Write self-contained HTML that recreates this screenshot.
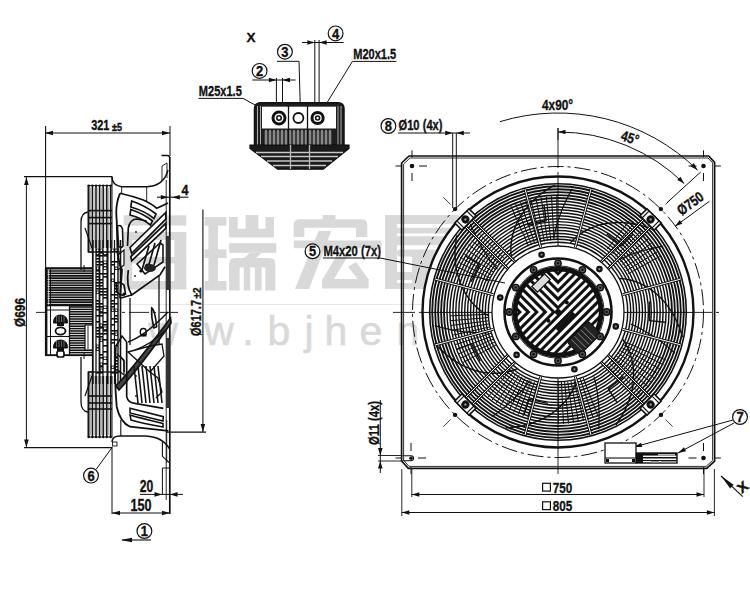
<!DOCTYPE html>
<html><head><meta charset="utf-8"><style>
html,body{margin:0;padding:0;background:#fff;}
svg{display:block;}
text{font-family:"Liberation Sans",sans-serif;}
</style></head><body>
<svg width="750" height="600" viewBox="0 0 750 600">
<rect width="750" height="600" fill="#fff"/>
<rect x="123.7" y="215.3" width="62.5" height="10.3" rx="0" fill="#d9d9d9"/>
<rect x="123.7" y="232" width="62.5" height="8" rx="2" fill="#d9d9d9"/>
<rect x="123.7" y="232" width="8.5" height="57" rx="0" fill="#d9d9d9"/>
<rect x="174.4" y="232" width="11.8" height="57" rx="0" fill="#d9d9d9"/>
<rect x="123.7" y="257" width="62.5" height="6.5" rx="0" fill="#d9d9d9"/>
<rect x="123.7" y="281" width="62.5" height="8.5" rx="0" fill="#d9d9d9"/>
<rect x="204.5" y="217" width="22" height="8.7" rx="0" fill="#d9d9d9"/>
<rect x="204.5" y="249.3" width="22" height="8.7" rx="0" fill="#d9d9d9"/>
<rect x="204.5" y="281" width="22" height="9.4" rx="0" fill="#d9d9d9"/>
<rect x="208.4" y="217" width="9.6" height="73" rx="0" fill="#d9d9d9"/>
<rect x="229" y="217" width="8.7" height="20" rx="0" fill="#d9d9d9"/>
<rect x="245.6" y="215" width="12.7" height="22" rx="0" fill="#d9d9d9"/>
<rect x="265.4" y="217" width="8.6" height="20" rx="0" fill="#d9d9d9"/>
<rect x="229" y="228.7" width="45" height="8.7" rx="2" fill="#d9d9d9"/>
<rect x="229.1" y="243.2" width="47.2" height="9.6" rx="0" fill="#d9d9d9"/>
<path d="M250,252.8 L262,252.8 L256,258 L244,258 Z" fill="#d9d9d9"/>
<path d="M229.1,290.4 L229.1,264 Q229.1,258 235,258 L269.5,258 Q275.4,258 275.4,264 L275.4,290.4 L265.3,290.4 L265.3,267.5 L261.6,267.5 L261.6,290.4 L254.8,290.4 L254.8,267.5 L250.2,267.5 L250.2,290.4 L243.8,290.4 L243.8,267.5 L239.6,267.5 L239.6,290.4 Z" fill="#d9d9d9"/>
<rect x="322.7" y="215" width="12.8" height="8" rx="0" fill="#d9d9d9"/>
<path d="M293.7,237 L293.7,225 Q293.7,219.2 300,219.2 L361,219.2 Q367.3,219.2 367.3,225 L367.3,237 L356,237 L356,227.7 L304.3,227.7 L304.3,237 Z" fill="#d9d9d9"/>
<rect x="293.7" y="240.5" width="87.8" height="7.7" rx="0" fill="#d9d9d9"/>
<path d="M318.5,231 L331.2,231 L309,289 L295,289 Z" fill="#d9d9d9"/>
<path d="M336,256.7 L347.5,256.7 L334,279 L368.7,279 L368.7,288.6 L322,288.6 L322,280 Z" fill="#d9d9d9"/>
<path d="M348,266.7 L356,262 L369,280 L360,282 Z" fill="#d9d9d9"/>
<rect x="385" y="215" width="75" height="9" rx="3" fill="#d9d9d9"/>
<rect x="397" y="227.7" width="60" height="5.7" rx="0" fill="#d9d9d9"/>
<rect x="397" y="236.2" width="60" height="9" rx="0" fill="#d9d9d9"/>
<rect x="385" y="215" width="12" height="74" rx="0" fill="#d9d9d9"/>
<rect x="397" y="249.6" width="50" height="7" rx="3" fill="#d9d9d9"/>
<rect x="412" y="256" width="35" height="33" rx="0" fill="#d9d9d9"/>
<rect x="397" y="272" width="15" height="8" rx="0" fill="#d9d9d9"/>
<rect x="397" y="283" width="15" height="6" rx="0" fill="#d9d9d9"/>
<line x1="120.0" y1="304.4" x2="440.0" y2="304.4" stroke="#e6e6e6" stroke-width="1.0" />
<text x="163.0" y="345.0" font-size="41" text-anchor="middle" font-weight="normal" fill="#d9d9d9" stroke="#d9d9d9" stroke-width="0.6">w</text>
<text x="219.0" y="345.0" font-size="41" text-anchor="middle" font-weight="normal" fill="#d9d9d9" stroke="#d9d9d9" stroke-width="0.6">w</text>
<text x="248.0" y="345.0" font-size="41" text-anchor="middle" font-weight="normal" fill="#d9d9d9" stroke="#d9d9d9" stroke-width="0.6">.</text>
<text x="279.0" y="345.0" font-size="41" text-anchor="middle" font-weight="normal" fill="#d9d9d9" stroke="#d9d9d9" stroke-width="0.6">b</text>
<text x="309.0" y="345.0" font-size="41" text-anchor="middle" font-weight="normal" fill="#d9d9d9" stroke="#d9d9d9" stroke-width="0.6">j</text>
<text x="336.0" y="345.0" font-size="41" text-anchor="middle" font-weight="normal" fill="#d9d9d9" stroke="#d9d9d9" stroke-width="0.6">h</text>
<text x="371.0" y="345.0" font-size="41" text-anchor="middle" font-weight="normal" fill="#d9d9d9" stroke="#d9d9d9" stroke-width="0.6">e</text>
<text x="408.0" y="345.0" font-size="41" text-anchor="middle" font-weight="normal" fill="#d9d9d9" stroke="#d9d9d9" stroke-width="0.6">n</text>
<line x1="393.0" y1="312.4" x2="722.0" y2="312.4" stroke="#111" stroke-width="0.9" stroke-dasharray="22,4,3,4"/>
<line x1="558.0" y1="128.0" x2="558.0" y2="478.0" stroke="#111" stroke-width="0.9" stroke-dasharray="40,4,3,4"/>
<path d="M409,156 L708.7,156 L714.6,162.3 L714.6,461.2 L706.7,468.4 L408.3,468.4 L401.6,461 L401.6,163 Z" stroke="#111" stroke-width="1.7" fill="none" />
<path d="M410,158 L708,158 L712.6,162.8 L712.6,460.5 L706,466.4 L409,466.4 L403.6,460.2 L403.6,164 Z" stroke="#333" stroke-width="1.0" fill="none" />
<circle cx="412.0" cy="166.0" r="2.3" stroke="#111" stroke-width="0.0" fill="#111" />
<circle cx="703.5" cy="166.0" r="2.3" stroke="#111" stroke-width="0.0" fill="#111" />
<circle cx="703.5" cy="458.0" r="2.3" stroke="#111" stroke-width="0.0" fill="#111" />
<path d="M402.5,455.8 L411,455.8 A2.5,2.5 0 0 1 411,460.8 L402.5,460.8" stroke="#111" stroke-width="1.1" fill="none" />
<circle cx="411.0" cy="458.3" r="1.8" stroke="#111" stroke-width="0.0" fill="#111" />
<line x1="419.0" y1="166.0" x2="427.0" y2="166.0" stroke="#111" stroke-width="1.0" />
<line x1="412.0" y1="173.0" x2="412.0" y2="181.0" stroke="#111" stroke-width="1.0" />
<line x1="398.0" y1="166.0" x2="402.0" y2="166.0" stroke="#111" stroke-width="0.0" />
<line x1="401.5" y1="166.0" x2="395.5" y2="166.0" stroke="#111" stroke-width="1.0" />
<line x1="412.0" y1="157.3" x2="412.0" y2="150.3" stroke="#111" stroke-width="1.0" />
<line x1="696.5" y1="166.0" x2="688.5" y2="166.0" stroke="#111" stroke-width="1.0" />
<line x1="703.5" y1="173.0" x2="703.5" y2="181.0" stroke="#111" stroke-width="1.0" />
<line x1="718.4" y1="166.0" x2="714.4" y2="166.0" stroke="#111" stroke-width="0.0" />
<line x1="714.9" y1="166.0" x2="720.9" y2="166.0" stroke="#111" stroke-width="1.0" />
<line x1="703.5" y1="157.3" x2="703.5" y2="150.3" stroke="#111" stroke-width="1.0" />
<line x1="696.5" y1="458.0" x2="688.5" y2="458.0" stroke="#111" stroke-width="1.0" />
<line x1="703.5" y1="451.0" x2="703.5" y2="443.0" stroke="#111" stroke-width="1.0" />
<line x1="718.4" y1="458.0" x2="714.4" y2="458.0" stroke="#111" stroke-width="0.0" />
<line x1="714.9" y1="458.0" x2="720.9" y2="458.0" stroke="#111" stroke-width="1.0" />
<line x1="703.5" y1="467.2" x2="703.5" y2="474.2" stroke="#111" stroke-width="1.0" />
<line x1="418.0" y1="458.0" x2="426.0" y2="458.0" stroke="#111" stroke-width="1.0" />
<line x1="411.0" y1="451.0" x2="411.0" y2="443.0" stroke="#111" stroke-width="1.0" />
<line x1="398.0" y1="458.0" x2="402.0" y2="458.0" stroke="#111" stroke-width="0.0" />
<line x1="401.5" y1="458.0" x2="395.5" y2="458.0" stroke="#111" stroke-width="1.0" />
<line x1="411.0" y1="467.2" x2="411.0" y2="474.2" stroke="#111" stroke-width="1.0" />
<circle cx="558.0" cy="312.0" r="145.5" stroke="#111" stroke-width="1.0" fill="none" stroke-dasharray="16,4,3,4"/>
<circle cx="455.1" cy="209.1" r="2.2" stroke="#111" stroke-width="0.0" fill="#111" />
<line x1="450.5" y1="204.5" x2="443.4" y2="197.4" stroke="#111" stroke-width="0.8" />
<circle cx="660.9" cy="209.1" r="2.2" stroke="#111" stroke-width="0.0" fill="#111" />
<line x1="665.5" y1="204.5" x2="672.6" y2="197.4" stroke="#111" stroke-width="0.8" />
<circle cx="660.9" cy="414.9" r="2.2" stroke="#111" stroke-width="0.0" fill="#111" />
<line x1="665.5" y1="419.5" x2="672.6" y2="426.6" stroke="#111" stroke-width="0.8" />
<circle cx="455.1" cy="414.9" r="2.2" stroke="#111" stroke-width="0.0" fill="#111" />
<line x1="450.5" y1="419.5" x2="443.4" y2="426.6" stroke="#111" stroke-width="0.8" />
<circle cx="558.0" cy="312.0" r="135.5" stroke="#111" stroke-width="2.4" fill="white" />
<circle cx="558.0" cy="312.0" r="128.3" stroke="#111" stroke-width="1.6" fill="none" />
<circle cx="558.0" cy="312.0" r="125.8" stroke="#111" stroke-width="1.85" fill="none" />
<circle cx="558.0" cy="312.0" r="122.8" stroke="#111" stroke-width="1.85" fill="none" />
<circle cx="558.0" cy="312.0" r="119.9" stroke="#111" stroke-width="1.85" fill="none" />
<circle cx="558.0" cy="312.0" r="116.9" stroke="#111" stroke-width="1.85" fill="none" />
<circle cx="558.0" cy="312.0" r="114.0" stroke="#111" stroke-width="1.85" fill="none" />
<circle cx="558.0" cy="312.0" r="111.0" stroke="#111" stroke-width="1.45" fill="none" />
<circle cx="558.0" cy="312.0" r="108.1" stroke="#111" stroke-width="1.45" fill="none" />
<circle cx="558.0" cy="312.0" r="105.1" stroke="#111" stroke-width="1.45" fill="none" />
<circle cx="558.0" cy="312.0" r="102.2" stroke="#111" stroke-width="1.45" fill="none" />
<circle cx="558.0" cy="312.0" r="99.2" stroke="#111" stroke-width="1.45" fill="none" />
<circle cx="558.0" cy="312.0" r="96.3" stroke="#111" stroke-width="1.45" fill="none" />
<circle cx="558.0" cy="312.0" r="93.3" stroke="#111" stroke-width="1.45" fill="none" />
<circle cx="558.0" cy="312.0" r="90.4" stroke="#111" stroke-width="1.45" fill="none" />
<circle cx="558.0" cy="312.0" r="87.4" stroke="#111" stroke-width="1.45" fill="none" />
<circle cx="558.0" cy="312.0" r="84.5" stroke="#111" stroke-width="1.45" fill="none" />
<circle cx="558.0" cy="312.0" r="81.5" stroke="#111" stroke-width="1.45" fill="none" />
<circle cx="558.0" cy="312.0" r="78.6" stroke="#111" stroke-width="1.45" fill="none" />
<circle cx="558.0" cy="312.0" r="75.6" stroke="#111" stroke-width="1.45" fill="none" />
<circle cx="558.0" cy="312.0" r="72.7" stroke="#111" stroke-width="1.45" fill="none" />
<circle cx="558.0" cy="312.0" r="69.7" stroke="#111" stroke-width="1.45" fill="none" />
<line x1="623.8" y1="341.3" x2="665.8" y2="360.0" stroke="#111" stroke-width="1.0" />
<line x1="622.4" y1="344.2" x2="663.5" y2="364.8" stroke="#111" stroke-width="1.0" />
<line x1="620.9" y1="347.1" x2="661.0" y2="369.6" stroke="#111" stroke-width="1.0" />
<line x1="619.2" y1="349.9" x2="658.3" y2="374.2" stroke="#111" stroke-width="1.0" />
<line x1="617.4" y1="352.7" x2="655.4" y2="378.7" stroke="#111" stroke-width="1.0" />
<line x1="615.5" y1="355.3" x2="652.2" y2="383.0" stroke="#111" stroke-width="1.0" />
<line x1="613.5" y1="357.9" x2="648.9" y2="387.2" stroke="#111" stroke-width="1.0" />
<line x1="611.3" y1="360.4" x2="645.4" y2="391.3" stroke="#111" stroke-width="1.0" />
<line x1="609.1" y1="362.7" x2="641.7" y2="395.1" stroke="#111" stroke-width="1.0" />
<line x1="606.7" y1="365.0" x2="637.9" y2="398.9" stroke="#111" stroke-width="1.0" />
<line x1="583.1" y1="377.4" x2="598.1" y2="416.6" stroke="#111" stroke-width="1.0" />
<line x1="580.1" y1="378.4" x2="593.4" y2="418.3" stroke="#111" stroke-width="1.0" />
<line x1="577.1" y1="379.4" x2="588.5" y2="419.8" stroke="#111" stroke-width="1.0" />
<line x1="574.0" y1="380.2" x2="583.6" y2="421.0" stroke="#111" stroke-width="1.0" />
<line x1="570.9" y1="380.8" x2="578.6" y2="422.1" stroke="#111" stroke-width="1.0" />
<line x1="567.7" y1="381.3" x2="573.6" y2="422.9" stroke="#111" stroke-width="1.0" />
<line x1="564.6" y1="381.7" x2="568.5" y2="423.5" stroke="#111" stroke-width="1.0" />
<line x1="561.4" y1="381.9" x2="563.5" y2="423.9" stroke="#111" stroke-width="1.0" />
<line x1="558.2" y1="382.0" x2="558.4" y2="424.0" stroke="#111" stroke-width="1.0" />
<line x1="537.6" y1="383.1" x2="527.7" y2="417.7" stroke="#111" stroke-width="1.0" />
<line x1="534.4" y1="382.1" x2="522.9" y2="416.3" stroke="#111" stroke-width="1.0" />
<line x1="531.2" y1="381.0" x2="518.2" y2="414.6" stroke="#111" stroke-width="1.0" />
<line x1="528.1" y1="379.7" x2="513.6" y2="412.6" stroke="#111" stroke-width="1.0" />
<line x1="525.1" y1="378.3" x2="509.1" y2="410.5" stroke="#111" stroke-width="1.0" />
<line x1="522.1" y1="376.7" x2="504.7" y2="408.2" stroke="#111" stroke-width="1.0" />
<line x1="519.2" y1="375.0" x2="500.4" y2="405.7" stroke="#111" stroke-width="1.0" />
<line x1="516.4" y1="373.2" x2="496.2" y2="403.0" stroke="#111" stroke-width="1.0" />
<line x1="513.7" y1="371.3" x2="492.1" y2="400.1" stroke="#111" stroke-width="1.0" />
<line x1="511.0" y1="369.2" x2="488.2" y2="397.0" stroke="#111" stroke-width="1.0" />
<line x1="496.2" y1="344.9" x2="462.6" y2="362.7" stroke="#111" stroke-width="1.0" />
<line x1="494.8" y1="342.0" x2="460.4" y2="358.3" stroke="#111" stroke-width="1.0" />
<line x1="493.5" y1="339.1" x2="458.4" y2="353.9" stroke="#111" stroke-width="1.0" />
<line x1="492.3" y1="336.2" x2="456.6" y2="349.3" stroke="#111" stroke-width="1.0" />
<line x1="491.3" y1="333.2" x2="455.1" y2="344.7" stroke="#111" stroke-width="1.0" />
<line x1="490.4" y1="330.1" x2="453.7" y2="340.0" stroke="#111" stroke-width="1.0" />
<line x1="489.6" y1="327.0" x2="452.5" y2="335.2" stroke="#111" stroke-width="1.0" />
<line x1="489.0" y1="323.9" x2="451.6" y2="330.4" stroke="#111" stroke-width="1.0" />
<line x1="488.6" y1="320.8" x2="450.9" y2="325.5" stroke="#111" stroke-width="1.0" />
<line x1="488.2" y1="317.6" x2="450.3" y2="320.7" stroke="#111" stroke-width="1.0" />
<line x1="488.0" y1="314.4" x2="450.1" y2="315.8" stroke="#111" stroke-width="1.0" />
<line x1="488.6" y1="281.1" x2="455.7" y2="266.4" stroke="#111" stroke-width="1.0" />
<line x1="490.0" y1="278.0" x2="457.9" y2="261.9" stroke="#111" stroke-width="1.0" />
<line x1="491.7" y1="274.9" x2="460.2" y2="257.4" stroke="#111" stroke-width="1.0" />
<line x1="493.4" y1="272.0" x2="462.8" y2="253.0" stroke="#111" stroke-width="1.0" />
<line x1="495.3" y1="269.1" x2="465.6" y2="248.7" stroke="#111" stroke-width="1.0" />
<line x1="497.3" y1="266.3" x2="468.6" y2="244.6" stroke="#111" stroke-width="1.0" />
<line x1="499.4" y1="263.6" x2="471.7" y2="240.6" stroke="#111" stroke-width="1.0" />
<line x1="501.7" y1="260.9" x2="475.0" y2="236.8" stroke="#111" stroke-width="1.0" />
<line x1="504.1" y1="258.4" x2="478.5" y2="233.1" stroke="#111" stroke-width="1.0" />
<line x1="528.7" y1="246.2" x2="510.8" y2="206.0" stroke="#111" stroke-width="1.0" />
<line x1="531.7" y1="245.0" x2="515.7" y2="204.0" stroke="#111" stroke-width="1.0" />
<line x1="534.8" y1="243.8" x2="520.6" y2="202.2" stroke="#111" stroke-width="1.0" />
<line x1="537.9" y1="242.9" x2="525.6" y2="200.6" stroke="#111" stroke-width="1.0" />
<line x1="541.1" y1="242.0" x2="530.7" y2="199.3" stroke="#111" stroke-width="1.0" />
<line x1="544.3" y1="241.3" x2="535.9" y2="198.1" stroke="#111" stroke-width="1.0" />
<line x1="547.5" y1="240.8" x2="541.1" y2="197.2" stroke="#111" stroke-width="1.0" />
<line x1="550.7" y1="240.4" x2="546.3" y2="196.6" stroke="#111" stroke-width="1.0" />
<line x1="554.0" y1="240.1" x2="551.5" y2="196.2" stroke="#111" stroke-width="1.0" />
<line x1="557.2" y1="240.0" x2="556.8" y2="196.0" stroke="#111" stroke-width="1.0" />
<line x1="607.3" y1="249.0" x2="629.4" y2="220.6" stroke="#111" stroke-width="1.0" />
<line x1="610.1" y1="251.3" x2="633.5" y2="223.9" stroke="#111" stroke-width="1.0" />
<line x1="612.8" y1="253.7" x2="637.4" y2="227.4" stroke="#111" stroke-width="1.0" />
<line x1="615.4" y1="256.2" x2="641.2" y2="231.1" stroke="#111" stroke-width="1.0" />
<line x1="617.8" y1="258.9" x2="644.7" y2="235.0" stroke="#111" stroke-width="1.0" />
<line x1="620.2" y1="261.7" x2="648.1" y2="239.0" stroke="#111" stroke-width="1.0" />
<line x1="622.4" y1="264.5" x2="651.4" y2="243.2" stroke="#111" stroke-width="1.0" />
<line x1="624.5" y1="267.5" x2="654.4" y2="247.5" stroke="#111" stroke-width="1.0" />
<line x1="626.4" y1="270.6" x2="657.2" y2="251.9" stroke="#111" stroke-width="1.0" />
<line x1="628.2" y1="273.7" x2="659.8" y2="256.5" stroke="#111" stroke-width="1.0" />
<path d="M570.2,243.1 L573.5,239.6 L577.2,236.3 L581.4,233.2 L586.1,230.4 L591.2,227.9 L596.7,225.9 L602.7,224.2 L609.2,223.1 L616.0,222.5 L623.3,222.6 L630.9,223.3 L638.8,224.8 L646.9,227.1 L655.3,230.4" stroke="#111" stroke-width="1.4" fill="none" />
<path d="M613.0,262.5 L617.6,260.2 L622.3,258.0 L627.2,256.0 L632.1,254.1 L637.1,252.4 L642.1,250.9 L647.3,249.5 L652.5,248.3 L657.8,247.2 L663.2,246.3" stroke="#111" stroke-width="1.2" fill="none" />
<path d="M606.8,234.0 L621.9,245.8 L633.0,234.3" stroke="#111" stroke-width="1.4" fill="none" />
<path d="M619.5,278.5 L624.3,278.9 L629.2,279.8 L634.2,281.2 L639.3,283.1 L644.4,285.5 L649.5,288.6 L654.5,292.2 L659.4,296.6 L664.1,301.6 L668.6,307.3 L672.8,313.7 L676.5,320.8 L679.8,328.6 L682.5,337.2" stroke="#111" stroke-width="1.4" fill="none" />
<path d="M631.0,324.1 L635.7,326.3 L640.3,328.6 L644.9,331.2 L649.4,333.8 L653.9,336.7 L658.3,339.7 L662.5,342.8 L666.8,346.1 L670.9,349.6 L674.9,353.2" stroke="#111" stroke-width="1.2" fill="none" />
<path d="M649.4,301.5 L649.6,320.7 L665.5,322.2" stroke="#111" stroke-width="1.4" fill="none" />
<path d="M622.5,339.2 L625.2,343.2 L627.6,347.6 L629.6,352.4 L631.3,357.5 L632.6,363.0 L633.4,368.9 L633.6,375.1 L633.3,381.7 L632.3,388.5 L630.7,395.5 L628.2,402.8 L625.0,410.2 L620.9,417.6 L615.9,425.0" stroke="#111" stroke-width="1.4" fill="none" />
<path d="M594.0,376.6 L595.3,381.7 L596.3,386.7 L597.2,391.9 L597.9,397.1 L598.5,402.3 L598.9,407.6 L599.1,413.0 L599.1,418.3 L599.0,423.7 L598.7,429.1" stroke="#111" stroke-width="1.2" fill="none" />
<path d="M623.2,376.9 L608.3,389.0 L617.0,402.4" stroke="#111" stroke-width="1.4" fill="none" />
<path d="M577.0,379.4 L575.5,384.0 L573.5,388.6 L571.1,393.2 L568.1,397.7 L564.6,402.1 L560.5,406.4 L555.8,410.5 L550.5,414.3 L544.6,417.8 L538.0,420.9 L530.8,423.5 L523.0,425.6 L514.7,427.0 L505.8,427.8" stroke="#111" stroke-width="1.4" fill="none" />
<path d="M529.9,380.5 L526.8,384.6 L523.5,388.6 L520.0,392.5 L516.4,396.3 L512.6,400.0 L508.7,403.6 L504.7,407.1 L500.5,410.4 L496.2,413.7 L491.8,416.8" stroke="#111" stroke-width="1.2" fill="none" />
<path d="M547.9,403.4 L529.1,399.4 L524.1,414.5" stroke="#111" stroke-width="1.4" fill="none" />
<path d="M517.1,368.8 L512.6,370.5 L507.8,371.9 L502.7,372.8 L497.3,373.3 L491.7,373.3 L485.8,372.8 L479.6,371.7 L473.3,369.9 L466.9,367.4 L460.4,364.3 L453.9,360.3 L447.4,355.5 L441.0,349.9 L434.9,343.3" stroke="#111" stroke-width="1.4" fill="none" />
<path d="M487.0,332.8 L481.8,332.8 L476.6,332.7 L471.4,332.5 L466.2,332.0 L460.9,331.4 L455.7,330.6 L450.4,329.6 L445.2,328.4 L440.0,327.1 L434.7,325.6" stroke="#111" stroke-width="1.2" fill="none" />
<path d="M480.2,361.1 L471.7,343.9 L456.7,349.4" stroke="#111" stroke-width="1.4" fill="none" />
<path d="M488.1,315.5 L483.9,313.0 L479.9,310.1 L476.0,306.7 L472.2,302.8 L468.7,298.4 L465.4,293.4 L462.5,287.9 L459.9,281.9 L457.9,275.3 L456.3,268.3 L455.3,260.7 L455.0,252.6 L455.5,244.2 L456.8,235.3" stroke="#111" stroke-width="1.4" fill="none" />
<path d="M497.5,269.4 L494.2,265.4 L491.0,261.3 L488.0,257.0 L485.1,252.7 L482.3,248.2 L479.7,243.6 L477.2,238.9 L474.8,234.0 L472.6,229.1 L470.5,224.1" stroke="#111" stroke-width="1.2" fill="none" />
<path d="M471.1,281.8 L479.3,264.4 L465.6,256.1" stroke="#111" stroke-width="1.4" fill="none" />
<path d="M511.7,259.5 L511.0,254.7 L510.8,249.7 L511.0,244.6 L511.7,239.2 L513.0,233.7 L514.8,228.0 L517.3,222.3 L520.4,216.6 L524.2,210.8 L528.8,205.2 L534.1,199.7 L540.2,194.5 L547.1,189.6 L554.8,185.0" stroke="#111" stroke-width="1.4" fill="none" />
<path d="M553.6,238.1 L554.7,233.1 L555.9,228.0 L557.3,223.0 L558.9,218.0 L560.7,213.0 L562.7,208.1 L564.8,203.2 L567.1,198.4 L569.6,193.6 L572.2,188.8" stroke="#111" stroke-width="1.2" fill="none" />
<path d="M527.4,225.2 L546.1,220.8 L544.0,204.9" stroke="#111" stroke-width="1.4" fill="none" />
<line x1="558.0" y1="176.0" x2="558.0" y2="258.0" stroke="#111" stroke-width="1.0" />
<line x1="558.0" y1="366.0" x2="558.0" y2="448.0" stroke="#111" stroke-width="1.0" />
<line x1="422.0" y1="312.4" x2="504.0" y2="312.4" stroke="#111" stroke-width="1.0" />
<line x1="612.0" y1="312.4" x2="694.0" y2="312.4" stroke="#111" stroke-width="1.0" />
<line x1="622.7" y1="329.3" x2="680.7" y2="344.9" stroke="#111" stroke-width="2.8" />
<line x1="622.7" y1="329.3" x2="680.7" y2="344.9" stroke="white" stroke-width="1.0" />
<line x1="575.3" y1="376.7" x2="590.9" y2="434.7" stroke="#111" stroke-width="2.8" />
<line x1="575.3" y1="376.7" x2="590.9" y2="434.7" stroke="white" stroke-width="1.0" />
<line x1="540.7" y1="376.7" x2="525.1" y2="434.7" stroke="#111" stroke-width="2.8" />
<line x1="540.7" y1="376.7" x2="525.1" y2="434.7" stroke="white" stroke-width="1.0" />
<line x1="493.3" y1="329.3" x2="435.3" y2="344.9" stroke="#111" stroke-width="2.8" />
<line x1="493.3" y1="329.3" x2="435.3" y2="344.9" stroke="white" stroke-width="1.0" />
<line x1="493.3" y1="294.7" x2="435.3" y2="279.1" stroke="#111" stroke-width="2.8" />
<line x1="493.3" y1="294.7" x2="435.3" y2="279.1" stroke="white" stroke-width="1.0" />
<line x1="540.7" y1="247.3" x2="525.1" y2="189.3" stroke="#111" stroke-width="2.8" />
<line x1="540.7" y1="247.3" x2="525.1" y2="189.3" stroke="white" stroke-width="1.0" />
<line x1="575.3" y1="247.3" x2="590.9" y2="189.3" stroke="#111" stroke-width="2.8" />
<line x1="575.3" y1="247.3" x2="590.9" y2="189.3" stroke="white" stroke-width="1.0" />
<line x1="622.7" y1="294.7" x2="680.7" y2="279.1" stroke="#111" stroke-width="2.8" />
<line x1="622.7" y1="294.7" x2="680.7" y2="279.1" stroke="white" stroke-width="1.0" />
<line x1="596.9" y1="358.0" x2="643.6" y2="404.6" stroke="#111" stroke-width="2.8" />
<line x1="596.9" y1="358.0" x2="643.6" y2="404.6" stroke="white" stroke-width="1.0" />
<line x1="604.0" y1="350.9" x2="650.6" y2="397.6" stroke="#111" stroke-width="2.8" />
<line x1="604.0" y1="350.9" x2="650.6" y2="397.6" stroke="white" stroke-width="1.0" />
<g transform="translate(650.6,404.6) rotate(45)"><rect x="-5" y="-10" width="10" height="20" fill="white" stroke="#111" stroke-width="1.6"/><line x1="-5" y1="-7" x2="5" y2="-7" stroke="#111" stroke-width="1.2"/><line x1="-5" y1="7" x2="5" y2="7" stroke="#111" stroke-width="1.2"/><circle cx="0" cy="0" r="4" fill="#111"/><circle cx="0" cy="0" r="1.2" fill="#999"/></g>
<line x1="512.0" y1="350.9" x2="465.4" y2="397.6" stroke="#111" stroke-width="2.8" />
<line x1="512.0" y1="350.9" x2="465.4" y2="397.6" stroke="white" stroke-width="1.0" />
<line x1="519.1" y1="358.0" x2="472.4" y2="404.6" stroke="#111" stroke-width="2.8" />
<line x1="519.1" y1="358.0" x2="472.4" y2="404.6" stroke="white" stroke-width="1.0" />
<g transform="translate(465.4,404.6) rotate(135)"><rect x="-5" y="-10" width="10" height="20" fill="white" stroke="#111" stroke-width="1.6"/><line x1="-5" y1="-7" x2="5" y2="-7" stroke="#111" stroke-width="1.2"/><line x1="-5" y1="7" x2="5" y2="7" stroke="#111" stroke-width="1.2"/><circle cx="0" cy="0" r="4" fill="#111"/><circle cx="0" cy="0" r="1.2" fill="#999"/></g>
<line x1="519.1" y1="266.0" x2="472.4" y2="219.4" stroke="#111" stroke-width="2.8" />
<line x1="519.1" y1="266.0" x2="472.4" y2="219.4" stroke="white" stroke-width="1.0" />
<line x1="512.0" y1="273.1" x2="465.4" y2="226.4" stroke="#111" stroke-width="2.8" />
<line x1="512.0" y1="273.1" x2="465.4" y2="226.4" stroke="white" stroke-width="1.0" />
<g transform="translate(465.4,219.4) rotate(225)"><rect x="-5" y="-10" width="10" height="20" fill="white" stroke="#111" stroke-width="1.6"/><line x1="-5" y1="-7" x2="5" y2="-7" stroke="#111" stroke-width="1.2"/><line x1="-5" y1="7" x2="5" y2="7" stroke="#111" stroke-width="1.2"/><circle cx="0" cy="0" r="4" fill="#111"/><circle cx="0" cy="0" r="1.2" fill="#999"/></g>
<line x1="604.0" y1="273.1" x2="650.6" y2="226.4" stroke="#111" stroke-width="2.8" />
<line x1="604.0" y1="273.1" x2="650.6" y2="226.4" stroke="white" stroke-width="1.0" />
<line x1="596.9" y1="266.0" x2="643.6" y2="219.4" stroke="#111" stroke-width="2.8" />
<line x1="596.9" y1="266.0" x2="643.6" y2="219.4" stroke="white" stroke-width="1.0" />
<g transform="translate(650.6,219.4) rotate(315)"><rect x="-5" y="-10" width="10" height="20" fill="white" stroke="#111" stroke-width="1.6"/><line x1="-5" y1="-7" x2="5" y2="-7" stroke="#111" stroke-width="1.2"/><line x1="-5" y1="7" x2="5" y2="7" stroke="#111" stroke-width="1.2"/><circle cx="0" cy="0" r="4" fill="#111"/><circle cx="0" cy="0" r="1.2" fill="#999"/></g>
<circle cx="558.0" cy="312.0" r="66.0" stroke="#111" stroke-width="1.3" fill="white" />
<circle cx="599.4" cy="269.1" r="3.3" stroke="#111" stroke-width="0.0" fill="#111" />
<circle cx="599.4" cy="269.1" r="1.1" stroke="#111" stroke-width="0.0" fill="#888" />
<circle cx="615.8" cy="326.4" r="3.3" stroke="#111" stroke-width="0.0" fill="#111" />
<circle cx="615.8" cy="326.4" r="1.1" stroke="#111" stroke-width="0.0" fill="#888" />
<circle cx="574.4" cy="369.3" r="3.3" stroke="#111" stroke-width="0.0" fill="#111" />
<circle cx="574.4" cy="369.3" r="1.1" stroke="#111" stroke-width="0.0" fill="#888" />
<circle cx="516.6" cy="354.9" r="3.3" stroke="#111" stroke-width="0.0" fill="#111" />
<circle cx="516.6" cy="354.9" r="1.1" stroke="#111" stroke-width="0.0" fill="#888" />
<circle cx="500.2" cy="297.6" r="3.3" stroke="#111" stroke-width="0.0" fill="#111" />
<circle cx="500.2" cy="297.6" r="1.1" stroke="#111" stroke-width="0.0" fill="#888" />
<circle cx="541.6" cy="254.7" r="3.3" stroke="#111" stroke-width="0.0" fill="#111" />
<circle cx="541.6" cy="254.7" r="1.1" stroke="#111" stroke-width="0.0" fill="#888" />
<circle cx="558.0" cy="312.0" r="53.5" stroke="#111" stroke-width="2.6" fill="white" />
<circle cx="558.0" cy="312.0" r="46.2" stroke="#111" stroke-width="0.9" fill="none" />
<circle cx="558.0" cy="312.0" r="43.2" stroke="#111" stroke-width="4.6" fill="#111" />
<clipPath id="hubA"><path d="M505,255 L558,255 L558,312 L505,312 Z"/></clipPath>
<clipPath id="hubB"><path d="M558,250 L620,250 L620,374 L496,374 L496,312 L558,312 Z"/></clipPath>
<clipPath id="hubclip"><circle cx="558" cy="312" r="40.8"/></clipPath>
<g clip-path="url(#hubclip)"><g clip-path="url(#hubB)"><line x1="403.2" y1="297.2" x2="543.2" y2="157.2" stroke="white" stroke-width="3.0"/><line x1="407.4" y1="301.4" x2="547.4" y2="161.4" stroke="white" stroke-width="3.0"/><line x1="411.7" y1="305.7" x2="551.7" y2="165.7" stroke="white" stroke-width="3.0"/><line x1="415.9" y1="309.9" x2="555.9" y2="169.9" stroke="white" stroke-width="3.0"/><line x1="420.2" y1="314.2" x2="560.2" y2="174.2" stroke="white" stroke-width="3.0"/><line x1="424.4" y1="318.4" x2="564.4" y2="178.4" stroke="white" stroke-width="3.0"/><line x1="428.6" y1="322.6" x2="568.6" y2="182.6" stroke="white" stroke-width="3.0"/><line x1="432.9" y1="326.9" x2="572.9" y2="186.9" stroke="white" stroke-width="3.0"/><line x1="437.1" y1="331.1" x2="577.1" y2="191.1" stroke="white" stroke-width="3.0"/><line x1="441.4" y1="335.4" x2="581.4" y2="195.4" stroke="white" stroke-width="3.0"/><line x1="445.6" y1="339.6" x2="585.6" y2="199.6" stroke="white" stroke-width="3.0"/><line x1="449.8" y1="343.8" x2="589.8" y2="203.8" stroke="white" stroke-width="3.0"/><line x1="454.1" y1="348.1" x2="594.1" y2="208.1" stroke="white" stroke-width="3.0"/><line x1="458.3" y1="352.3" x2="598.3" y2="212.3" stroke="white" stroke-width="3.0"/><line x1="462.6" y1="356.6" x2="602.6" y2="216.6" stroke="white" stroke-width="3.0"/><line x1="466.8" y1="360.8" x2="606.8" y2="220.8" stroke="white" stroke-width="3.0"/><line x1="471.0" y1="365.0" x2="611.0" y2="225.0" stroke="white" stroke-width="3.0"/><line x1="475.3" y1="369.3" x2="615.3" y2="229.3" stroke="white" stroke-width="3.0"/><line x1="479.5" y1="373.5" x2="619.5" y2="233.5" stroke="white" stroke-width="3.0"/><line x1="483.8" y1="377.8" x2="623.8" y2="237.8" stroke="white" stroke-width="3.0"/><line x1="488.0" y1="382.0" x2="628.0" y2="242.0" stroke="white" stroke-width="3.0"/><line x1="492.2" y1="386.2" x2="632.2" y2="246.2" stroke="white" stroke-width="3.0"/><line x1="496.5" y1="390.5" x2="636.5" y2="250.5" stroke="white" stroke-width="3.0"/><line x1="500.7" y1="394.7" x2="640.7" y2="254.7" stroke="white" stroke-width="3.0"/><line x1="505.0" y1="399.0" x2="645.0" y2="259.0" stroke="white" stroke-width="3.0"/><line x1="509.2" y1="403.2" x2="649.2" y2="263.2" stroke="white" stroke-width="3.0"/><line x1="513.4" y1="407.4" x2="653.4" y2="267.4" stroke="white" stroke-width="3.0"/><line x1="517.7" y1="411.7" x2="657.7" y2="271.7" stroke="white" stroke-width="3.0"/><line x1="521.9" y1="415.9" x2="661.9" y2="275.9" stroke="white" stroke-width="3.0"/><line x1="526.2" y1="420.2" x2="666.2" y2="280.2" stroke="white" stroke-width="3.0"/><line x1="530.4" y1="424.4" x2="670.4" y2="284.4" stroke="white" stroke-width="3.0"/><line x1="534.6" y1="428.6" x2="674.6" y2="288.6" stroke="white" stroke-width="3.0"/><line x1="538.9" y1="432.9" x2="678.9" y2="292.9" stroke="white" stroke-width="3.0"/><line x1="543.1" y1="437.1" x2="683.1" y2="297.1" stroke="white" stroke-width="3.0"/><line x1="547.4" y1="441.4" x2="687.4" y2="301.4" stroke="white" stroke-width="3.0"/><line x1="551.6" y1="445.6" x2="691.6" y2="305.6" stroke="white" stroke-width="3.0"/><line x1="555.8" y1="449.8" x2="695.8" y2="309.8" stroke="white" stroke-width="3.0"/><line x1="560.1" y1="454.1" x2="700.1" y2="314.1" stroke="white" stroke-width="3.0"/><line x1="564.3" y1="458.3" x2="704.3" y2="318.3" stroke="white" stroke-width="3.0"/><line x1="568.6" y1="462.6" x2="708.6" y2="322.6" stroke="white" stroke-width="3.0"/><line x1="572.8" y1="466.8" x2="712.8" y2="326.8" stroke="white" stroke-width="3.0"/></g><g clip-path="url(#hubA)"><line x1="572.8" y1="157.2" x2="712.8" y2="297.2" stroke="white" stroke-width="3.0"/><line x1="568.6" y1="161.4" x2="708.6" y2="301.4" stroke="white" stroke-width="3.0"/><line x1="564.3" y1="165.7" x2="704.3" y2="305.7" stroke="white" stroke-width="3.0"/><line x1="560.1" y1="169.9" x2="700.1" y2="309.9" stroke="white" stroke-width="3.0"/><line x1="555.8" y1="174.2" x2="695.8" y2="314.2" stroke="white" stroke-width="3.0"/><line x1="551.6" y1="178.4" x2="691.6" y2="318.4" stroke="white" stroke-width="3.0"/><line x1="547.4" y1="182.6" x2="687.4" y2="322.6" stroke="white" stroke-width="3.0"/><line x1="543.1" y1="186.9" x2="683.1" y2="326.9" stroke="white" stroke-width="3.0"/><line x1="538.9" y1="191.1" x2="678.9" y2="331.1" stroke="white" stroke-width="3.0"/><line x1="534.6" y1="195.4" x2="674.6" y2="335.4" stroke="white" stroke-width="3.0"/><line x1="530.4" y1="199.6" x2="670.4" y2="339.6" stroke="white" stroke-width="3.0"/><line x1="526.2" y1="203.8" x2="666.2" y2="343.8" stroke="white" stroke-width="3.0"/><line x1="521.9" y1="208.1" x2="661.9" y2="348.1" stroke="white" stroke-width="3.0"/><line x1="517.7" y1="212.3" x2="657.7" y2="352.3" stroke="white" stroke-width="3.0"/><line x1="513.4" y1="216.6" x2="653.4" y2="356.6" stroke="white" stroke-width="3.0"/><line x1="509.2" y1="220.8" x2="649.2" y2="360.8" stroke="white" stroke-width="3.0"/><line x1="505.0" y1="225.0" x2="645.0" y2="365.0" stroke="white" stroke-width="3.0"/><line x1="500.7" y1="229.3" x2="640.7" y2="369.3" stroke="white" stroke-width="3.0"/><line x1="496.5" y1="233.5" x2="636.5" y2="373.5" stroke="white" stroke-width="3.0"/><line x1="492.2" y1="237.8" x2="632.2" y2="377.8" stroke="white" stroke-width="3.0"/><line x1="488.0" y1="242.0" x2="628.0" y2="382.0" stroke="white" stroke-width="3.0"/><line x1="483.8" y1="246.2" x2="623.8" y2="386.2" stroke="white" stroke-width="3.0"/><line x1="479.5" y1="250.5" x2="619.5" y2="390.5" stroke="white" stroke-width="3.0"/><line x1="475.3" y1="254.7" x2="615.3" y2="394.7" stroke="white" stroke-width="3.0"/><line x1="471.0" y1="259.0" x2="611.0" y2="399.0" stroke="white" stroke-width="3.0"/><line x1="466.8" y1="263.2" x2="606.8" y2="403.2" stroke="white" stroke-width="3.0"/><line x1="462.6" y1="267.4" x2="602.6" y2="407.4" stroke="white" stroke-width="3.0"/><line x1="458.3" y1="271.7" x2="598.3" y2="411.7" stroke="white" stroke-width="3.0"/><line x1="454.1" y1="275.9" x2="594.1" y2="415.9" stroke="white" stroke-width="3.0"/><line x1="449.8" y1="280.2" x2="589.8" y2="420.2" stroke="white" stroke-width="3.0"/><line x1="445.6" y1="284.4" x2="585.6" y2="424.4" stroke="white" stroke-width="3.0"/><line x1="441.4" y1="288.6" x2="581.4" y2="428.6" stroke="white" stroke-width="3.0"/><line x1="437.1" y1="292.9" x2="577.1" y2="432.9" stroke="white" stroke-width="3.0"/><line x1="432.9" y1="297.1" x2="572.9" y2="437.1" stroke="white" stroke-width="3.0"/><line x1="428.6" y1="301.4" x2="568.6" y2="441.4" stroke="white" stroke-width="3.0"/><line x1="424.4" y1="305.6" x2="564.4" y2="445.6" stroke="white" stroke-width="3.0"/><line x1="420.2" y1="309.8" x2="560.2" y2="449.8" stroke="white" stroke-width="3.0"/><line x1="415.9" y1="314.1" x2="555.9" y2="454.1" stroke="white" stroke-width="3.0"/><line x1="411.7" y1="318.3" x2="551.7" y2="458.3" stroke="white" stroke-width="3.0"/><line x1="407.4" y1="322.6" x2="547.4" y2="462.6" stroke="white" stroke-width="3.0"/><line x1="403.2" y1="326.8" x2="543.2" y2="466.8" stroke="white" stroke-width="3.0"/></g></g>
<g transform="translate(584,338) rotate(-45)"><rect x="-15" y="-9" width="30" height="18" rx="3" fill="#222" stroke="#111"/><line x1="-10" y1="-8" x2="-10" y2="8" stroke="#888" stroke-width="0.9"/><line x1="-5.5" y1="-8" x2="-5.5" y2="8" stroke="#888" stroke-width="0.9"/><line x1="-1" y1="-8" x2="-1" y2="8" stroke="#888" stroke-width="0.9"/><line x1="3.5" y1="-8" x2="3.5" y2="8" stroke="#888" stroke-width="0.9"/><line x1="8" y1="-8" x2="8" y2="8" stroke="#888" stroke-width="0.9"/></g>
<g transform="translate(541,283) rotate(-45)"><rect x="-9" y="-4" width="18" height="8" fill="#ddd" stroke="#111" stroke-width="1.2"/></g>
<circle cx="558.0" cy="312.0" r="3.0" stroke="#111" stroke-width="0.0" fill="#111" />
<circle cx="566.8" cy="302.4" r="2.0" stroke="#111" stroke-width="0.0" fill="#111" />
<circle cx="548.4" cy="320.8" r="2.0" stroke="#111" stroke-width="0.0" fill="#111" />
<g transform="translate(566,322) rotate(-45)"><rect x="-12" y="-2.5" width="24" height="5" fill="#111"/></g>
<circle cx="606.7" cy="312.0" r="3.2" stroke="#111" stroke-width="1.4" fill="#555" />
<circle cx="606.7" cy="312.0" r="1.2" stroke="#111" stroke-width="0.0" fill="#111" />
<circle cx="600.2" cy="336.4" r="3.2" stroke="#111" stroke-width="1.4" fill="#555" />
<circle cx="600.2" cy="336.4" r="1.2" stroke="#111" stroke-width="0.0" fill="#111" />
<circle cx="582.4" cy="354.2" r="3.2" stroke="#111" stroke-width="1.4" fill="#555" />
<circle cx="582.4" cy="354.2" r="1.2" stroke="#111" stroke-width="0.0" fill="#111" />
<circle cx="558.0" cy="360.7" r="3.2" stroke="#111" stroke-width="1.4" fill="#555" />
<circle cx="558.0" cy="360.7" r="1.2" stroke="#111" stroke-width="0.0" fill="#111" />
<circle cx="533.6" cy="354.2" r="3.2" stroke="#111" stroke-width="1.4" fill="#555" />
<circle cx="533.6" cy="354.2" r="1.2" stroke="#111" stroke-width="0.0" fill="#111" />
<circle cx="515.8" cy="336.4" r="3.2" stroke="#111" stroke-width="1.4" fill="#555" />
<circle cx="515.8" cy="336.4" r="1.2" stroke="#111" stroke-width="0.0" fill="#111" />
<circle cx="509.3" cy="312.0" r="3.2" stroke="#111" stroke-width="1.4" fill="#555" />
<circle cx="509.3" cy="312.0" r="1.2" stroke="#111" stroke-width="0.0" fill="#111" />
<circle cx="515.8" cy="287.6" r="3.2" stroke="#111" stroke-width="1.4" fill="#555" />
<circle cx="515.8" cy="287.6" r="1.2" stroke="#111" stroke-width="0.0" fill="#111" />
<circle cx="533.6" cy="269.8" r="3.2" stroke="#111" stroke-width="1.4" fill="#555" />
<circle cx="533.6" cy="269.8" r="1.2" stroke="#111" stroke-width="0.0" fill="#111" />
<circle cx="558.0" cy="263.3" r="3.2" stroke="#111" stroke-width="1.4" fill="#555" />
<circle cx="558.0" cy="263.3" r="1.2" stroke="#111" stroke-width="0.0" fill="#111" />
<circle cx="582.4" cy="269.8" r="3.2" stroke="#111" stroke-width="1.4" fill="#555" />
<circle cx="582.4" cy="269.8" r="1.2" stroke="#111" stroke-width="0.0" fill="#111" />
<circle cx="600.2" cy="287.6" r="3.2" stroke="#111" stroke-width="1.4" fill="#555" />
<circle cx="600.2" cy="287.6" r="1.2" stroke="#111" stroke-width="0.0" fill="#111" />
<circle cx="388.4" cy="126.0" r="7.4" stroke="#111" stroke-width="1.2" fill="white" />
<text x="388.4" y="131.1" font-size="14" text-anchor="middle" font-weight="bold" fill="#111" textLength="7.2" lengthAdjust="spacingAndGlyphs" stroke="#111" stroke-width="0.35">8</text>
<text x="398.5" y="130.3" font-size="13.8" text-anchor="start" font-weight="bold" fill="#111" textLength="44" lengthAdjust="spacingAndGlyphs" stroke="#111" stroke-width="0.35">Ø10 (4x)</text>
<line x1="398.0" y1="133.0" x2="452.7" y2="133.0" stroke="#111" stroke-width="1.0" />
<line x1="452.7" y1="133.0" x2="470.0" y2="133.0" stroke="#111" stroke-width="1.0" />
<line x1="452.7" y1="133.0" x2="452.7" y2="208.0" stroke="#111" stroke-width="1.0" />
<line x1="456.3" y1="133.0" x2="456.3" y2="208.0" stroke="#111" stroke-width="1.0" />
<path d="M452.7,133.0 L445.2,135.3 L445.2,130.7 Z" fill="#111"/>
<path d="M456.3,133.0 L463.8,130.7 L463.8,135.3 Z" fill="#111"/>
<path d="M499.8,121.7 A199,199 0 0 1 697.5,170.1" stroke="#111" stroke-width="1.0" fill="none" />
<path d="M697.5,170.1 L690.6,166.4 L693.8,163.1 Z" fill="#111"/>
<text x="542.0" y="110.0" font-size="14.5" text-anchor="start" font-weight="bold" fill="#111" textLength="31" lengthAdjust="spacingAndGlyphs" stroke="#111" stroke-width="0.35">4x90°</text>
<path d="M558.0,132.0 A180,180 0 0 1 684.2,183.6" stroke="#111" stroke-width="1.0" fill="none" />
<path d="M558.0,132.0 L565.5,129.7 L565.5,134.3 Z" fill="#111"/>
<path d="M684.2,183.6 L677.2,179.9 L680.5,176.7 Z" fill="#111"/>
<text x="620.0" y="140.0" font-size="14.5" text-anchor="start" font-weight="bold" fill="#111" textLength="18" lengthAdjust="spacingAndGlyphs" transform="rotate(17 620.0 140.0)" stroke="#111" stroke-width="0.35">45°</text>
<line x1="558.0" y1="128.0" x2="558.0" y2="140.0" stroke="#111" stroke-width="1.0" />
<line x1="667.0" y1="202.7" x2="700.7" y2="172.0" stroke="#111" stroke-width="1.0" />
<line x1="675.0" y1="226.3" x2="709.4" y2="201.3" stroke="#111" stroke-width="1.0" />
<path d="M675.0,226.3 L679.7,220.0 L682.4,223.8 Z" fill="#111"/>
<text x="681.5" y="216.0" font-size="14.5" text-anchor="start" font-weight="bold" fill="#111" textLength="29" lengthAdjust="spacingAndGlyphs" transform="rotate(-36 681.5 216.0)" stroke="#111" stroke-width="0.35">Ø750</text>
<circle cx="312.5" cy="251.3" r="7.4" stroke="#111" stroke-width="1.2" fill="white" />
<text x="312.5" y="256.4" font-size="14" text-anchor="middle" font-weight="bold" fill="#111" textLength="7.2" lengthAdjust="spacingAndGlyphs" stroke="#111" stroke-width="0.35">5</text>
<text x="323.5" y="255.9" font-size="14.5" text-anchor="start" font-weight="bold" fill="#111" textLength="57.5" lengthAdjust="spacingAndGlyphs" stroke="#111" stroke-width="0.35">M4x20 (7x)</text>
<line x1="323.0" y1="258.0" x2="380.0" y2="258.0" stroke="#111" stroke-width="1.0" />
<line x1="380.0" y1="258.0" x2="505.0" y2="283.0" stroke="#111" stroke-width="1.0" />
<circle cx="740.0" cy="417.0" r="7.4" stroke="#111" stroke-width="1.2" fill="white" />
<text x="740.0" y="422.1" font-size="14" text-anchor="middle" font-weight="bold" fill="#111" textLength="7.2" lengthAdjust="spacingAndGlyphs" stroke="#111" stroke-width="0.35">7</text>
<line x1="733.0" y1="420.0" x2="634.0" y2="447.0" stroke="#111" stroke-width="1.0" />
<path d="M634.0,447.0 L641.1,442.7 L642.3,447.1 Z" fill="#111"/>
<line x1="734.0" y1="423.0" x2="678.0" y2="453.0" stroke="#111" stroke-width="1.0" />
<path d="M678.0,453.0 L684.0,447.2 L686.1,451.2 Z" fill="#111"/>
<rect x="605" y="443" width="31" height="20" fill="white" stroke="#111" stroke-width="1.3"/>
<line x1="605.0" y1="458.0" x2="636.0" y2="458.0" stroke="#111" stroke-width="1.1" />
<rect x="606" y="459" width="3" height="3" fill="#111"/><rect x="632" y="459" width="3" height="3" fill="#111"/>
<rect x="636.5" y="453" width="40.5" height="10" fill="white" stroke="#111" stroke-width="1.4"/>
<rect x="636.5" y="453" width="40.5" height="2.6" fill="#111"/>
<rect x="637" y="455" width="6" height="8" fill="#111"/>
<rect x="658" y="454" width="17" height="1.6" fill="#bbb"/>
<line x1="643.0" y1="457.8" x2="677.0" y2="457.8" stroke="#111" stroke-width="1.5" />
<line x1="643.0" y1="460.5" x2="677.0" y2="460.5" stroke="#111" stroke-width="1.0" />
<rect x="651" y="461" width="8" height="1.6" fill="#999"/><rect x="661" y="461" width="15" height="1.6" fill="#999"/>
<line x1="411.8" y1="469.0" x2="411.8" y2="497.0" stroke="#111" stroke-width="0.9" />
<line x1="704.0" y1="469.0" x2="704.0" y2="497.0" stroke="#111" stroke-width="0.9" />
<line x1="411.8" y1="494.5" x2="704.0" y2="494.5" stroke="#111" stroke-width="1.0" />
<path d="M411.8,494.5 L419.3,492.2 L419.3,496.8 Z" fill="#111"/>
<path d="M704.0,494.5 L696.5,496.8 L696.5,492.2 Z" fill="#111"/>
<line x1="401.8" y1="469.0" x2="401.8" y2="516.0" stroke="#111" stroke-width="0.9" />
<line x1="714.4" y1="469.0" x2="714.4" y2="516.0" stroke="#111" stroke-width="0.9" />
<line x1="401.8" y1="512.5" x2="714.4" y2="512.5" stroke="#111" stroke-width="1.0" />
<path d="M401.8,512.5 L409.3,510.2 L409.3,514.8 Z" fill="#111"/>
<path d="M714.4,512.5 L706.9,514.8 L706.9,510.2 Z" fill="#111"/>
<rect x="542.6" y="483.3" width="7.8" height="7.8" fill="none" stroke="#111" stroke-width="1.2"/>
<text x="552.8" y="492.8" font-size="15.5" text-anchor="start" font-weight="bold" fill="#111" textLength="19.5" lengthAdjust="spacingAndGlyphs" stroke="#111" stroke-width="0.35">750</text>
<rect x="542.6" y="501.8" width="7.8" height="7.8" fill="none" stroke="#111" stroke-width="1.2"/>
<text x="552.8" y="511.3" font-size="15.5" text-anchor="start" font-weight="bold" fill="#111" textLength="19.5" lengthAdjust="spacingAndGlyphs" stroke="#111" stroke-width="0.35">805</text>
<line x1="378.0" y1="455.5" x2="402.0" y2="455.5" stroke="#111" stroke-width="0.9" />
<line x1="378.0" y1="461.0" x2="402.0" y2="461.0" stroke="#111" stroke-width="0.9" />
<line x1="380.3" y1="400.0" x2="380.3" y2="473.0" stroke="#111" stroke-width="1.0" />
<path d="M380.3,455.5 L378.0,448.0 L382.6,448.0 Z" fill="#111"/>
<path d="M380.3,461.0 L382.6,468.5 L378.0,468.5 Z" fill="#111"/>
<text x="379.0" y="445.0" font-size="14.5" text-anchor="start" font-weight="bold" fill="#111" textLength="44" lengthAdjust="spacingAndGlyphs" transform="rotate(-90 379.0 445.0)" stroke="#111" stroke-width="0.35">Ø11 (4x)</text>
<line x1="721.0" y1="476.0" x2="742.7" y2="496.7" stroke="#111" stroke-width="1.1" />
<path d="M721,475.7 L733.6,484.8 L730.2,488.6 Z" fill="#111"/>
<text x="745.6" y="490.9" font-size="14" text-anchor="middle" font-weight="bold" fill="#111" textLength="10" lengthAdjust="spacingAndGlyphs" transform="rotate(-38 745.6 490.9)" stroke="#111" stroke-width="0.35">X</text>
<text x="246.5" y="42.4" font-size="13.5" text-anchor="start" font-weight="bold" fill="#111" stroke="#111" stroke-width="0.35">X</text>
<circle cx="259.6" cy="70.9" r="7.4" stroke="#111" stroke-width="1.2" fill="white" />
<text x="259.6" y="76.0" font-size="14" text-anchor="middle" font-weight="bold" fill="#111" textLength="7.2" lengthAdjust="spacingAndGlyphs" stroke="#111" stroke-width="0.35">2</text>
<circle cx="284.9" cy="51.7" r="7.4" stroke="#111" stroke-width="1.2" fill="white" />
<text x="284.9" y="56.8" font-size="14" text-anchor="middle" font-weight="bold" fill="#111" textLength="7.2" lengthAdjust="spacingAndGlyphs" stroke="#111" stroke-width="0.35">3</text>
<circle cx="335.6" cy="33.4" r="7.4" stroke="#111" stroke-width="1.2" fill="white" />
<text x="335.6" y="38.5" font-size="14" text-anchor="middle" font-weight="bold" fill="#111" textLength="7.2" lengthAdjust="spacingAndGlyphs" stroke="#111" stroke-width="0.35">4</text>
<text x="198.8" y="96.0" font-size="14.5" text-anchor="start" font-weight="bold" fill="#111" textLength="43" lengthAdjust="spacingAndGlyphs" stroke="#111" stroke-width="0.35">M25x1.5</text>
<line x1="198.5" y1="98.4" x2="243.0" y2="98.4" stroke="#111" stroke-width="1.0" />
<line x1="243.0" y1="98.4" x2="279.0" y2="118.0" stroke="#111" stroke-width="1.0" />
<text x="353.2" y="58.5" font-size="14.5" text-anchor="start" font-weight="bold" fill="#111" textLength="43" lengthAdjust="spacingAndGlyphs" stroke="#111" stroke-width="0.35">M20x1.5</text>
<line x1="352.4" y1="61.4" x2="396.4" y2="61.4" stroke="#111" stroke-width="1.0" />
<line x1="352.4" y1="61.4" x2="317.6" y2="118.0" stroke="#111" stroke-width="1.0" />
<line x1="252.4" y1="80.0" x2="295.6" y2="80.0" stroke="#111" stroke-width="1.0" />
<path d="M276.4,80.0 L268.9,82.3 L268.9,77.7 Z" fill="#111"/>
<path d="M282.5,80.0 L290.0,77.7 L290.0,82.3 Z" fill="#111"/>
<line x1="276.4" y1="78.0" x2="276.4" y2="110.0" stroke="#111" stroke-width="1.0" />
<line x1="282.5" y1="78.0" x2="282.5" y2="110.0" stroke="#111" stroke-width="1.0" />
<line x1="277.0" y1="61.3" x2="299.0" y2="61.3" stroke="#111" stroke-width="1.0" />
<line x1="299.0" y1="61.3" x2="300.4" y2="110.0" stroke="#111" stroke-width="1.0" />
<line x1="302.0" y1="42.5" x2="343.6" y2="42.5" stroke="#111" stroke-width="1.0" />
<path d="M314.8,42.5 L307.3,44.8 L307.3,40.2 Z" fill="#111"/>
<path d="M319.1,42.5 L326.6,40.2 L326.6,44.8 Z" fill="#111"/>
<line x1="314.8" y1="40.0" x2="314.8" y2="110.0" stroke="#111" stroke-width="1.0" />
<line x1="319.1" y1="40.0" x2="319.1" y2="110.0" stroke="#111" stroke-width="1.0" />
<path d="M254.5,145 L254.5,109 Q254.5,102.8 261,102.8 L338,102.8 Q344,102.8 344,109 L344,145 Z" stroke="#111" stroke-width="1.5" fill="#1e1e1e" />
<rect x="262" y="106.5" width="74" height="22" fill="white"/>
<line x1="262.0" y1="106.5" x2="336.0" y2="106.5" stroke="#666" stroke-width="1.0" />
<line x1="257.5" y1="106.0" x2="257.5" y2="145.0" stroke="#aaa" stroke-width="1.0" />
<line x1="260.5" y1="106.0" x2="260.5" y2="145.0" stroke="#aaa" stroke-width="1.0" />
<line x1="338.0" y1="106.0" x2="338.0" y2="145.0" stroke="#aaa" stroke-width="1.0" />
<line x1="341.0" y1="106.0" x2="341.0" y2="145.0" stroke="#aaa" stroke-width="1.0" />
<path d="M264.7,145 L264.7,131 Q266,128 267.3,131 L267.3,145 Z" fill="#888"/>
<path d="M268.7,145 L268.7,131 Q270,128 271.3,131 L271.3,145 Z" fill="#888"/>
<path d="M272.7,145 L272.7,131 Q274,128 275.3,131 L275.3,145 Z" fill="#888"/>
<path d="M276.7,145 L276.7,131 Q278,128 279.3,131 L279.3,145 Z" fill="#888"/>
<path d="M280.7,145 L280.7,131 Q282,128 283.3,131 L283.3,145 Z" fill="#888"/>
<path d="M284.7,145 L284.7,131 Q286,128 287.3,131 L287.3,145 Z" fill="#888"/>
<path d="M288.7,145 L288.7,131 Q290,128 291.3,131 L291.3,145 Z" fill="#888"/>
<path d="M292.7,145 L292.7,131 Q294,128 295.3,131 L295.3,145 Z" fill="#888"/>
<path d="M296.7,145 L296.7,131 Q298,128 299.3,131 L299.3,145 Z" fill="#888"/>
<path d="M300.7,145 L300.7,131 Q302,128 303.3,131 L303.3,145 Z" fill="#888"/>
<path d="M304.7,145 L304.7,131 Q306,128 307.3,131 L307.3,145 Z" fill="#888"/>
<path d="M308.7,145 L308.7,131 Q310,128 311.3,131 L311.3,145 Z" fill="#888"/>
<path d="M312.7,145 L312.7,131 Q314,128 315.3,131 L315.3,145 Z" fill="#888"/>
<path d="M316.7,145 L316.7,131 Q318,128 319.3,131 L319.3,145 Z" fill="#888"/>
<path d="M320.7,145 L320.7,131 Q322,128 323.3,131 L323.3,145 Z" fill="#888"/>
<path d="M324.7,145 L324.7,131 Q326,128 327.3,131 L327.3,145 Z" fill="#888"/>
<path d="M328.7,145 L328.7,131 Q330,128 331.3,131 L331.3,145 Z" fill="#888"/>
<circle cx="279.0" cy="118.0" r="6.0" stroke="#111" stroke-width="3.0" fill="white" />
<circle cx="279.0" cy="118.0" r="2.2" stroke="#111" stroke-width="1.6" fill="none" />
<circle cx="298.4" cy="118.0" r="5.0" stroke="#111" stroke-width="1.8" fill="white" />
<circle cx="317.6" cy="118.0" r="5.6" stroke="#111" stroke-width="3.0" fill="white" />
<circle cx="317.6" cy="118.0" r="2.0" stroke="#111" stroke-width="1.6" fill="none" />
<line x1="288.5" y1="106.0" x2="288.5" y2="145.0" stroke="#111" stroke-width="1.3" />
<line x1="307.5" y1="106.0" x2="307.5" y2="145.0" stroke="#111" stroke-width="1.3" />
<path d="M250,145 L349,145 L349,148.4 L323.2,169.2 L277.6,169.2 L250,148.4 Z" stroke="#111" stroke-width="1.2" fill="#1a1a1a" />
<line x1="256.0" y1="152.5" x2="343.0" y2="152.5" stroke="#c8c8c8" stroke-width="1.5" />
<line x1="261.0" y1="156.5" x2="338.0" y2="156.5" stroke="#c8c8c8" stroke-width="1.5" />
<line x1="267.0" y1="161.0" x2="332.0" y2="161.0" stroke="#c8c8c8" stroke-width="1.5" />
<line x1="273.0" y1="165.5" x2="326.0" y2="165.5" stroke="#c8c8c8" stroke-width="1.5" />
<line x1="290.5" y1="145.0" x2="290.5" y2="169.0" stroke="#bbb" stroke-width="1.3" />
<line x1="309.5" y1="145.0" x2="309.5" y2="169.0" stroke="#bbb" stroke-width="1.3" />
<line x1="45.0" y1="133.0" x2="170.0" y2="133.0" stroke="#111" stroke-width="1.0" />
<path d="M45.0,133.0 L53.0,130.7 L53.0,135.3 Z" fill="#111"/>
<path d="M170.0,133.0 L162.0,135.3 L162.0,130.7 Z" fill="#111"/>
<text x="91.2" y="130.4" font-size="14.6" text-anchor="start" font-weight="bold" fill="#111" textLength="18.2" lengthAdjust="spacingAndGlyphs" stroke="#111" stroke-width="0.35">321</text>
<text x="112.0" y="130.5" font-size="10.5" text-anchor="start" font-weight="bold" fill="#111" textLength="10" lengthAdjust="spacingAndGlyphs" stroke="#111" stroke-width="0.35">±5</text>
<line x1="45.6" y1="126.0" x2="45.6" y2="269.0" stroke="#111" stroke-width="1.1" />
<line x1="170.0" y1="126.0" x2="170.0" y2="156.0" stroke="#111" stroke-width="1.0" />
<line x1="24.0" y1="176.6" x2="112.0" y2="176.6" stroke="#111" stroke-width="1.2" />
<line x1="112.0" y1="176.6" x2="112.0" y2="185.0" stroke="#111" stroke-width="1.2" />
<line x1="26.4" y1="177.0" x2="26.4" y2="447.6" stroke="#111" stroke-width="1.0" />
<path d="M26.4,177.0 L28.7,185.0 L24.1,185.0 Z" fill="#111"/>
<path d="M26.4,447.6 L24.1,439.6 L28.7,439.6 Z" fill="#111"/>
<line x1="24.0" y1="447.6" x2="112.0" y2="447.6" stroke="#111" stroke-width="1.2" />
<text x="24.6" y="327.0" font-size="15" text-anchor="start" font-weight="bold" fill="#111" textLength="29" lengthAdjust="spacingAndGlyphs" transform="rotate(-90 24.6 327.0)" stroke="#111" stroke-width="0.35">Ø696</text>
<line x1="202.9" y1="209.4" x2="202.9" y2="432.0" stroke="#111" stroke-width="1.1" />
<path d="M202.9,432.0 L200.6,424.0 L205.2,424.0 Z" fill="#111"/>
<line x1="166.0" y1="432.1" x2="206.0" y2="432.1" stroke="#111" stroke-width="1.1" />
<text x="201.3" y="336.0" font-size="15" text-anchor="start" font-weight="bold" fill="#111" textLength="36" lengthAdjust="spacingAndGlyphs" transform="rotate(-90 201.3 336.0)" stroke="#111" stroke-width="0.35">Ø617.7</text>
<text x="201.3" y="298.5" font-size="10.5" text-anchor="start" font-weight="bold" fill="#111" textLength="11" lengthAdjust="spacingAndGlyphs" transform="rotate(-90 201.3 298.5)" stroke="#111" stroke-width="0.35">±2</text>
<line x1="157.0" y1="197.2" x2="188.4" y2="197.2" stroke="#111" stroke-width="1.1" />
<path d="M168.3,197.2 L160.8,199.5 L160.8,194.9 Z" fill="#111"/>
<path d="M172.3,197.2 L179.8,194.9 L179.8,199.5 Z" fill="#111"/>
<text x="181.5" y="194.5" font-size="14" text-anchor="start" font-weight="bold" fill="#111" textLength="7" lengthAdjust="spacingAndGlyphs" stroke="#111" stroke-width="0.35">4</text>
<line x1="36.0" y1="312.4" x2="178.0" y2="312.4" stroke="#111" stroke-width="0.9" stroke-dasharray="20,4,3,4"/>
<line x1="169.8" y1="157.0" x2="169.8" y2="514.0" stroke="#111" stroke-width="1.7" />
<path d="M161.5,155.5 L168,155.5 Q169.8,156 169.8,158" stroke="#111" stroke-width="1.3" fill="none" />
<path d="M162,181 L162,166 L167,163 L167,178" stroke="#111" stroke-width="0.9" fill="none" />
<line x1="166.2" y1="180.0" x2="166.2" y2="500.0" stroke="#111" stroke-width="0.9" />
<path d="M168,170 Q164,186 146.7,186.7 L121.7,186.7 Q112,186 112,176.6" stroke="#111" stroke-width="1.4" fill="none" />
<line x1="146.7" y1="187.0" x2="146.7" y2="202.0" stroke="#111" stroke-width="0.9" />
<line x1="121.7" y1="187.0" x2="121.7" y2="194.0" stroke="#111" stroke-width="0.9" />
<path d="M112,442 Q112,436 120,436 L146,436 Q163,437 169.5,449" stroke="#111" stroke-width="1.5" fill="none" />
<line x1="120.8" y1="420.0" x2="120.8" y2="436.0" stroke="#111" stroke-width="1.1" />
<rect x="112.5" y="442" width="4.5" height="4" fill="none" stroke="#111" stroke-width="0.9"/>
<path d="M162.4,441.3 L162.4,456.3 L169.3,462.7 M162.4,468 L169.3,468" stroke="#111" stroke-width="1.1" fill="none" />
<line x1="166.7" y1="420.0" x2="166.7" y2="463.0" stroke="#111" stroke-width="0.9" />
<line x1="162.4" y1="468.0" x2="162.4" y2="494.0" stroke="#111" stroke-width="1.0" />
<line x1="112.0" y1="447.0" x2="112.0" y2="514.0" stroke="#111" stroke-width="1.0" />
<line x1="112.0" y1="513.0" x2="170.0" y2="513.0" stroke="#111" stroke-width="1.0" />
<path d="M112.0,513.0 L120.0,510.7 L120.0,515.3 Z" fill="#111"/>
<path d="M170.0,513.0 L162.0,515.3 L162.0,510.7 Z" fill="#111"/>
<text x="141.0" y="510.5" font-size="16" text-anchor="middle" font-weight="bold" fill="#111" textLength="21" lengthAdjust="spacingAndGlyphs" stroke="#111" stroke-width="0.35">150</text>
<line x1="140.0" y1="494.4" x2="183.0" y2="494.4" stroke="#111" stroke-width="1.0" />
<path d="M162.0,494.4 L154.5,496.7 L154.5,492.1 Z" fill="#111"/>
<path d="M170.0,494.4 L177.5,492.1 L177.5,496.7 Z" fill="#111"/>
<text x="146.5" y="492.3" font-size="16" text-anchor="middle" font-weight="bold" fill="#111" textLength="13.5" lengthAdjust="spacingAndGlyphs" stroke="#111" stroke-width="0.35">20</text>
<circle cx="91.0" cy="475.6" r="7.4" stroke="#111" stroke-width="1.2" fill="white" />
<text x="91.0" y="480.7" font-size="14" text-anchor="middle" font-weight="bold" fill="#111" textLength="7.2" lengthAdjust="spacingAndGlyphs" stroke="#111" stroke-width="0.35">6</text>
<line x1="96.0" y1="469.5" x2="112.0" y2="447.5" stroke="#111" stroke-width="1.0" />
<circle cx="144.4" cy="531.0" r="7.4" stroke="#111" stroke-width="1.2" fill="white" />
<text x="144.4" y="536.1" font-size="14" text-anchor="middle" font-weight="bold" fill="#111" textLength="7.2" lengthAdjust="spacingAndGlyphs" stroke="#111" stroke-width="0.35">1</text>
<line x1="122.0" y1="540.0" x2="151.0" y2="540.0" stroke="#111" stroke-width="1.1" />
<path d="M121.0,540.0 L132.0,537.7 L132.0,542.3 Z" fill="#111"/>
<rect x="45.5" y="268" width="48" height="87.5" fill="white" stroke="#111" stroke-width="1.2"/>
<line x1="46.2" y1="268.0" x2="46.2" y2="355.5" stroke="#111" stroke-width="2.4" />
<line x1="45.5" y1="268.6" x2="93.5" y2="268.6" stroke="#111" stroke-width="2.0" />
<line x1="47.0" y1="271.0" x2="93.5" y2="271.0" stroke="#111" stroke-width="1.7" />
<line x1="47.0" y1="273.4" x2="93.5" y2="273.4" stroke="#111" stroke-width="1.7" />
<line x1="47.0" y1="275.8" x2="93.5" y2="275.8" stroke="#111" stroke-width="1.7" />
<line x1="47.0" y1="278.2" x2="93.5" y2="278.2" stroke="#111" stroke-width="1.7" />
<line x1="47.0" y1="280.6" x2="93.5" y2="280.6" stroke="#111" stroke-width="1.7" />
<line x1="47.0" y1="283.0" x2="93.5" y2="283.0" stroke="#111" stroke-width="1.7" />
<line x1="47.0" y1="285.4" x2="93.5" y2="285.4" stroke="#111" stroke-width="1.7" />
<line x1="47.0" y1="287.8" x2="93.5" y2="287.8" stroke="#111" stroke-width="1.7" />
<line x1="47.0" y1="290.2" x2="93.5" y2="290.2" stroke="#111" stroke-width="1.7" />
<line x1="47.0" y1="292.6" x2="93.5" y2="292.6" stroke="#111" stroke-width="1.7" />
<line x1="47.0" y1="295.0" x2="93.5" y2="295.0" stroke="#111" stroke-width="1.7" />
<line x1="47.0" y1="297.4" x2="93.5" y2="297.4" stroke="#111" stroke-width="1.7" />
<line x1="47.0" y1="299.8" x2="93.5" y2="299.8" stroke="#111" stroke-width="1.7" />
<line x1="47.0" y1="302.2" x2="93.5" y2="302.2" stroke="#111" stroke-width="1.7" />
<line x1="47.0" y1="304.6" x2="93.5" y2="304.6" stroke="#111" stroke-width="1.7" />
<line x1="50.5" y1="269.0" x2="50.5" y2="355.0" stroke="#111" stroke-width="1.0" />
<line x1="48.5" y1="270.0" x2="48.5" y2="305.0" stroke="#fff" stroke-width="0.6" />
<line x1="46.0" y1="305.5" x2="93.5" y2="305.5" stroke="#111" stroke-width="1.3" />
<line x1="69.5" y1="307.0" x2="93.5" y2="307.0" stroke="#111" stroke-width="1.55" />
<line x1="69.5" y1="309.4" x2="93.5" y2="309.4" stroke="#111" stroke-width="1.55" />
<line x1="69.5" y1="311.8" x2="93.5" y2="311.8" stroke="#111" stroke-width="1.55" />
<line x1="69.5" y1="314.2" x2="93.5" y2="314.2" stroke="#111" stroke-width="1.55" />
<line x1="69.5" y1="316.6" x2="93.5" y2="316.6" stroke="#111" stroke-width="1.55" />
<line x1="69.5" y1="319.0" x2="93.5" y2="319.0" stroke="#111" stroke-width="1.55" />
<line x1="69.5" y1="321.4" x2="93.5" y2="321.4" stroke="#111" stroke-width="1.55" />
<line x1="69.5" y1="323.8" x2="93.5" y2="323.8" stroke="#111" stroke-width="1.55" />
<line x1="69.5" y1="326.2" x2="93.5" y2="326.2" stroke="#111" stroke-width="1.55" />
<line x1="69.5" y1="328.6" x2="93.5" y2="328.6" stroke="#111" stroke-width="1.55" />
<line x1="69.5" y1="331.0" x2="93.5" y2="331.0" stroke="#111" stroke-width="1.55" />
<line x1="69.5" y1="333.4" x2="93.5" y2="333.4" stroke="#111" stroke-width="1.55" />
<line x1="69.5" y1="335.8" x2="93.5" y2="335.8" stroke="#111" stroke-width="1.55" />
<line x1="69.5" y1="338.2" x2="93.5" y2="338.2" stroke="#111" stroke-width="1.55" />
<line x1="69.5" y1="340.6" x2="93.5" y2="340.6" stroke="#111" stroke-width="1.55" />
<line x1="69.5" y1="343.0" x2="93.5" y2="343.0" stroke="#111" stroke-width="1.55" />
<line x1="69.5" y1="345.4" x2="93.5" y2="345.4" stroke="#111" stroke-width="1.55" />
<line x1="69.5" y1="347.8" x2="93.5" y2="347.8" stroke="#111" stroke-width="1.55" />
<line x1="69.5" y1="350.2" x2="93.5" y2="350.2" stroke="#111" stroke-width="1.55" />
<line x1="69.5" y1="352.6" x2="93.5" y2="352.6" stroke="#111" stroke-width="1.55" />
<line x1="69.5" y1="305.0" x2="69.5" y2="355.0" stroke="#111" stroke-width="1.3" />
<line x1="46.0" y1="355.0" x2="93.5" y2="355.0" stroke="#111" stroke-width="1.6" />
<rect x="85" y="325" width="9.5" height="25" fill="white" stroke="#111" stroke-width="1.2"/>
<line x1="88.0" y1="326.0" x2="88.0" y2="349.0" stroke="#111" stroke-width="0.9" />
<path d="M53.5,323 Q53.5,315 60.5,315 Q67.5,315 67.5,323 Z" stroke="#111" stroke-width="1.0" fill="#111" />
<line x1="56.5" y1="316.0" x2="56.5" y2="322.0" stroke="#888" stroke-width="0.7" />
<line x1="59.0" y1="316.0" x2="59.0" y2="322.0" stroke="#888" stroke-width="0.7" />
<line x1="61.5" y1="316.0" x2="61.5" y2="322.0" stroke="#888" stroke-width="0.7" />
<line x1="64.0" y1="316.0" x2="64.0" y2="322.0" stroke="#888" stroke-width="0.7" />
<rect x="57" y="322" width="7" height="4" fill="#111"/>
<path d="M53.5,348 Q53.5,340 60.5,340 Q67.5,340 67.5,348 Z" stroke="#111" stroke-width="1.0" fill="#111" />
<line x1="56.5" y1="341.0" x2="56.5" y2="347.0" stroke="#888" stroke-width="0.7" />
<line x1="59.0" y1="341.0" x2="59.0" y2="347.0" stroke="#888" stroke-width="0.7" />
<line x1="61.5" y1="341.0" x2="61.5" y2="347.0" stroke="#888" stroke-width="0.7" />
<line x1="64.0" y1="341.0" x2="64.0" y2="347.0" stroke="#888" stroke-width="0.7" />
<rect x="57" y="347" width="7" height="4" fill="#111"/>
<ellipse cx="60.5" cy="331" rx="5" ry="3.6" fill="white" stroke="#111" stroke-width="1.8"/>
<rect x="57" y="351" width="7" height="6" rx="2" fill="white" stroke="#111" stroke-width="1.7"/>
<line x1="47.0" y1="336.5" x2="69.0" y2="336.5" stroke="#111" stroke-width="1.1" />
<line x1="47.0" y1="310.0" x2="69.0" y2="310.0" stroke="#111" stroke-width="1.0" />
<rect x="88" y="185.6" width="24" height="66.4" fill="white" stroke="#111" stroke-width="1.0"/>
<line x1="88.8" y1="185.6" x2="88.8" y2="252.0" stroke="#111" stroke-width="1.5" />
<line x1="92.4" y1="185.6" x2="92.4" y2="252.0" stroke="#111" stroke-width="1.5" />
<line x1="96.0" y1="185.6" x2="96.0" y2="252.0" stroke="#111" stroke-width="1.5" />
<line x1="99.6" y1="185.6" x2="99.6" y2="252.0" stroke="#111" stroke-width="1.5" />
<line x1="103.2" y1="185.6" x2="103.2" y2="252.0" stroke="#111" stroke-width="1.5" />
<line x1="106.8" y1="185.6" x2="106.8" y2="252.0" stroke="#111" stroke-width="1.5" />
<line x1="110.6" y1="185.6" x2="110.6" y2="252.0" stroke="#111" stroke-width="1.5" />
<line x1="90.6" y1="187.6" x2="90.6" y2="250.0" stroke="#777" stroke-width="0.6" />
<line x1="94.2" y1="187.6" x2="94.2" y2="250.0" stroke="#777" stroke-width="0.6" />
<line x1="97.8" y1="187.6" x2="97.8" y2="250.0" stroke="#777" stroke-width="0.6" />
<line x1="101.4" y1="187.6" x2="101.4" y2="250.0" stroke="#777" stroke-width="0.6" />
<line x1="105.0" y1="187.6" x2="105.0" y2="250.0" stroke="#777" stroke-width="0.6" />
<line x1="108.6" y1="187.6" x2="108.6" y2="250.0" stroke="#777" stroke-width="0.6" />
<line x1="88.0" y1="210.6" x2="112.0" y2="210.6" stroke="#111" stroke-width="1.6" />
<line x1="88.0" y1="217.6" x2="112.0" y2="217.6" stroke="#111" stroke-width="1.6" />
<line x1="88.0" y1="223.6" x2="112.0" y2="223.6" stroke="#111" stroke-width="1.6" />
<circle cx="88.8" cy="185.6" r="1.2" stroke="#111" stroke-width="0.0" fill="#111" />
<circle cx="92.4" cy="185.6" r="1.2" stroke="#111" stroke-width="0.0" fill="#111" />
<circle cx="96.0" cy="185.6" r="1.2" stroke="#111" stroke-width="0.0" fill="#111" />
<circle cx="99.6" cy="185.6" r="1.2" stroke="#111" stroke-width="0.0" fill="#111" />
<circle cx="103.2" cy="185.6" r="1.2" stroke="#111" stroke-width="0.0" fill="#111" />
<circle cx="106.8" cy="185.6" r="1.2" stroke="#111" stroke-width="0.0" fill="#111" />
<circle cx="110.6" cy="185.6" r="1.2" stroke="#111" stroke-width="0.0" fill="#111" />
<rect x="88" y="372" width="24" height="65" fill="white" stroke="#111" stroke-width="1.0"/>
<line x1="88.8" y1="372.0" x2="88.8" y2="437.0" stroke="#111" stroke-width="1.5" />
<line x1="92.4" y1="372.0" x2="92.4" y2="437.0" stroke="#111" stroke-width="1.5" />
<line x1="96.0" y1="372.0" x2="96.0" y2="437.0" stroke="#111" stroke-width="1.5" />
<line x1="99.6" y1="372.0" x2="99.6" y2="437.0" stroke="#111" stroke-width="1.5" />
<line x1="103.2" y1="372.0" x2="103.2" y2="437.0" stroke="#111" stroke-width="1.5" />
<line x1="106.8" y1="372.0" x2="106.8" y2="437.0" stroke="#111" stroke-width="1.5" />
<line x1="110.6" y1="372.0" x2="110.6" y2="437.0" stroke="#111" stroke-width="1.5" />
<line x1="90.6" y1="374.0" x2="90.6" y2="435.0" stroke="#777" stroke-width="0.6" />
<line x1="94.2" y1="374.0" x2="94.2" y2="435.0" stroke="#777" stroke-width="0.6" />
<line x1="97.8" y1="374.0" x2="97.8" y2="435.0" stroke="#777" stroke-width="0.6" />
<line x1="101.4" y1="374.0" x2="101.4" y2="435.0" stroke="#777" stroke-width="0.6" />
<line x1="105.0" y1="374.0" x2="105.0" y2="435.0" stroke="#777" stroke-width="0.6" />
<line x1="108.6" y1="374.0" x2="108.6" y2="435.0" stroke="#777" stroke-width="0.6" />
<line x1="88.0" y1="396.0" x2="112.0" y2="396.0" stroke="#111" stroke-width="1.6" />
<line x1="88.0" y1="403.0" x2="112.0" y2="403.0" stroke="#111" stroke-width="1.6" />
<line x1="88.0" y1="409.0" x2="112.0" y2="409.0" stroke="#111" stroke-width="1.6" />
<circle cx="88.8" cy="437.0" r="1.2" stroke="#111" stroke-width="0.0" fill="#111" />
<circle cx="92.4" cy="437.0" r="1.2" stroke="#111" stroke-width="0.0" fill="#111" />
<circle cx="96.0" cy="437.0" r="1.2" stroke="#111" stroke-width="0.0" fill="#111" />
<circle cx="99.6" cy="437.0" r="1.2" stroke="#111" stroke-width="0.0" fill="#111" />
<circle cx="103.2" cy="437.0" r="1.2" stroke="#111" stroke-width="0.0" fill="#111" />
<circle cx="106.8" cy="437.0" r="1.2" stroke="#111" stroke-width="0.0" fill="#111" />
<circle cx="110.6" cy="437.0" r="1.2" stroke="#111" stroke-width="0.0" fill="#111" />
<path d="M88,212 Q81,213 81,222 L81,270" stroke="#111" stroke-width="1.3" fill="none" />
<path d="M88,412 Q81,411 81,402 L81,357" stroke="#111" stroke-width="1.3" fill="none" />
<line x1="85.0" y1="228.0" x2="92.0" y2="248.0" stroke="#111" stroke-width="1.2" />
<line x1="85.0" y1="396.0" x2="92.0" y2="376.0" stroke="#111" stroke-width="1.2" />
<line x1="84.0" y1="265.0" x2="84.0" y2="272.0" stroke="#111" stroke-width="1.0" />
<line x1="84.0" y1="352.0" x2="84.0" y2="359.0" stroke="#111" stroke-width="1.0" />
<rect x="92.5" y="248" width="28" height="128" fill="white"/>
<line x1="92.8" y1="240.0" x2="92.8" y2="384.0" stroke="#111" stroke-width="1.8" />
<line x1="96.0" y1="240.0" x2="96.0" y2="384.0" stroke="#111" stroke-width="1.3" />
<line x1="99.5" y1="240.0" x2="99.5" y2="384.0" stroke="#111" stroke-width="1.8" />
<line x1="103.0" y1="240.0" x2="103.0" y2="384.0" stroke="#111" stroke-width="1.3" />
<line x1="107.5" y1="240.0" x2="107.5" y2="384.0" stroke="#111" stroke-width="2.0" />
<line x1="111.0" y1="240.0" x2="111.0" y2="384.0" stroke="#111" stroke-width="1.5" />
<line x1="114.5" y1="240.0" x2="114.5" y2="384.0" stroke="#111" stroke-width="1.2" />
<line x1="118.0" y1="240.0" x2="118.0" y2="384.0" stroke="#111" stroke-width="1.4" />
<line x1="120.5" y1="240.0" x2="120.5" y2="384.0" stroke="#111" stroke-width="1.6" />
<rect x="96.5" y="249.0" width="2.5" height="2.6" fill="none" stroke="#111" stroke-width="0.8"/>
<rect x="100.0" y="249.0" width="2.5" height="2.6" fill="none" stroke="#111" stroke-width="0.8"/>
<rect x="111.5" y="249.0" width="2.5" height="2.6" fill="none" stroke="#111" stroke-width="0.8"/>
<rect x="115.0" y="249.0" width="2.5" height="2.6" fill="none" stroke="#111" stroke-width="0.8"/>
<rect x="96.5" y="252.0" width="2.5" height="2.6" fill="none" stroke="#111" stroke-width="0.8"/>
<rect x="99.5" y="252.0" width="3.5" height="1.6" fill="#111"/>
<rect x="103.5" y="252.0" width="3.5" height="2.6" fill="none" stroke="#111" stroke-width="0.8"/>
<rect x="96" y="255.0" width="3.5" height="1.6" fill="#111"/>
<rect x="99.5" y="255.0" width="3.5" height="1.6" fill="#111"/>
<rect x="103" y="255.0" width="4.5" height="1.6" fill="#111"/>
<rect x="96" y="258.0" width="3.5" height="1.6" fill="#111"/>
<rect x="96" y="261.0" width="3.5" height="1.6" fill="#111"/>
<rect x="99.5" y="261.0" width="3.5" height="1.6" fill="#111"/>
<rect x="103.5" y="261.0" width="3.5" height="2.6" fill="none" stroke="#111" stroke-width="0.8"/>
<rect x="111" y="261.0" width="3.5" height="1.6" fill="#111"/>
<rect x="114.5" y="261.0" width="3.5" height="1.6" fill="#111"/>
<rect x="96" y="264.0" width="3.5" height="1.6" fill="#111"/>
<rect x="99.5" y="264.0" width="3.5" height="1.6" fill="#111"/>
<rect x="103.5" y="264.0" width="3.5" height="2.6" fill="none" stroke="#111" stroke-width="0.8"/>
<rect x="111" y="264.0" width="3.5" height="1.6" fill="#111"/>
<rect x="96.5" y="267.0" width="2.5" height="2.6" fill="none" stroke="#111" stroke-width="0.8"/>
<rect x="103.5" y="267.0" width="3.5" height="2.6" fill="none" stroke="#111" stroke-width="0.8"/>
<rect x="115.0" y="267.0" width="2.5" height="2.6" fill="none" stroke="#111" stroke-width="0.8"/>
<rect x="96" y="270.0" width="3.5" height="1.6" fill="#111"/>
<rect x="96" y="273.0" width="3.5" height="1.6" fill="#111"/>
<rect x="99.5" y="273.0" width="3.5" height="1.6" fill="#111"/>
<rect x="103" y="273.0" width="4.5" height="1.6" fill="#111"/>
<rect x="111" y="273.0" width="3.5" height="1.6" fill="#111"/>
<rect x="96" y="276.0" width="3.5" height="1.6" fill="#111"/>
<rect x="103" y="276.0" width="4.5" height="1.6" fill="#111"/>
<rect x="96" y="279.0" width="3.5" height="1.6" fill="#111"/>
<rect x="99.5" y="279.0" width="3.5" height="1.6" fill="#111"/>
<rect x="111.5" y="279.0" width="2.5" height="2.6" fill="none" stroke="#111" stroke-width="0.8"/>
<rect x="96" y="282.0" width="3.5" height="1.6" fill="#111"/>
<rect x="99.5" y="282.0" width="3.5" height="1.6" fill="#111"/>
<rect x="114.5" y="282.0" width="3.5" height="1.6" fill="#111"/>
<rect x="96" y="285.0" width="3.5" height="1.6" fill="#111"/>
<rect x="99.5" y="285.0" width="3.5" height="1.6" fill="#111"/>
<rect x="114.5" y="285.0" width="3.5" height="1.6" fill="#111"/>
<rect x="96" y="288.0" width="3.5" height="1.6" fill="#111"/>
<rect x="99.5" y="288.0" width="3.5" height="1.6" fill="#111"/>
<rect x="103" y="288.0" width="4.5" height="1.6" fill="#111"/>
<rect x="114.5" y="288.0" width="3.5" height="1.6" fill="#111"/>
<rect x="96.5" y="291.0" width="2.5" height="2.6" fill="none" stroke="#111" stroke-width="0.8"/>
<rect x="99.5" y="291.0" width="3.5" height="1.6" fill="#111"/>
<rect x="103" y="291.0" width="4.5" height="1.6" fill="#111"/>
<rect x="114.5" y="291.0" width="3.5" height="1.6" fill="#111"/>
<rect x="99.5" y="294.0" width="3.5" height="1.6" fill="#111"/>
<rect x="103" y="294.0" width="4.5" height="1.6" fill="#111"/>
<rect x="111" y="294.0" width="3.5" height="1.6" fill="#111"/>
<rect x="114.5" y="294.0" width="3.5" height="1.6" fill="#111"/>
<rect x="103" y="297.0" width="4.5" height="1.6" fill="#111"/>
<rect x="114.5" y="297.0" width="3.5" height="1.6" fill="#111"/>
<rect x="96" y="300.0" width="3.5" height="1.6" fill="#111"/>
<rect x="111" y="300.0" width="3.5" height="1.6" fill="#111"/>
<rect x="96" y="303.0" width="3.5" height="1.6" fill="#111"/>
<rect x="99.5" y="303.0" width="3.5" height="1.6" fill="#111"/>
<rect x="111" y="303.0" width="3.5" height="1.6" fill="#111"/>
<rect x="114.5" y="303.0" width="3.5" height="1.6" fill="#111"/>
<rect x="96" y="306.0" width="3.5" height="1.6" fill="#111"/>
<rect x="99.5" y="306.0" width="3.5" height="1.6" fill="#111"/>
<rect x="103.5" y="306.0" width="3.5" height="2.6" fill="none" stroke="#111" stroke-width="0.8"/>
<rect x="111" y="306.0" width="3.5" height="1.6" fill="#111"/>
<rect x="96" y="309.0" width="3.5" height="1.6" fill="#111"/>
<rect x="100.0" y="309.0" width="2.5" height="2.6" fill="none" stroke="#111" stroke-width="0.8"/>
<rect x="111.5" y="309.0" width="2.5" height="2.6" fill="none" stroke="#111" stroke-width="0.8"/>
<rect x="115.0" y="309.0" width="2.5" height="2.6" fill="none" stroke="#111" stroke-width="0.8"/>
<rect x="99.5" y="312.0" width="3.5" height="1.6" fill="#111"/>
<rect x="103" y="312.0" width="4.5" height="1.6" fill="#111"/>
<rect x="96" y="315.0" width="3.5" height="1.6" fill="#111"/>
<rect x="99.5" y="315.0" width="3.5" height="1.6" fill="#111"/>
<rect x="114.5" y="315.0" width="3.5" height="1.6" fill="#111"/>
<rect x="111" y="318.0" width="3.5" height="1.6" fill="#111"/>
<rect x="114.5" y="318.0" width="3.5" height="1.6" fill="#111"/>
<rect x="96" y="321.0" width="3.5" height="1.6" fill="#111"/>
<rect x="103" y="321.0" width="4.5" height="1.6" fill="#111"/>
<rect x="114.5" y="321.0" width="3.5" height="1.6" fill="#111"/>
<rect x="100.0" y="324.0" width="2.5" height="2.6" fill="none" stroke="#111" stroke-width="0.8"/>
<rect x="103" y="324.0" width="4.5" height="1.6" fill="#111"/>
<rect x="111" y="324.0" width="3.5" height="1.6" fill="#111"/>
<rect x="96" y="327.0" width="3.5" height="1.6" fill="#111"/>
<rect x="99.5" y="327.0" width="3.5" height="1.6" fill="#111"/>
<rect x="103.5" y="327.0" width="3.5" height="2.6" fill="none" stroke="#111" stroke-width="0.8"/>
<rect x="96" y="330.0" width="3.5" height="1.6" fill="#111"/>
<rect x="103" y="330.0" width="4.5" height="1.6" fill="#111"/>
<rect x="111" y="330.0" width="3.5" height="1.6" fill="#111"/>
<rect x="114.5" y="330.0" width="3.5" height="1.6" fill="#111"/>
<rect x="96" y="333.0" width="3.5" height="1.6" fill="#111"/>
<rect x="99.5" y="333.0" width="3.5" height="1.6" fill="#111"/>
<rect x="103" y="333.0" width="4.5" height="1.6" fill="#111"/>
<rect x="111" y="333.0" width="3.5" height="1.6" fill="#111"/>
<rect x="115.0" y="333.0" width="2.5" height="2.6" fill="none" stroke="#111" stroke-width="0.8"/>
<rect x="96" y="336.0" width="3.5" height="1.6" fill="#111"/>
<rect x="99.5" y="336.0" width="3.5" height="1.6" fill="#111"/>
<rect x="100.0" y="339.0" width="2.5" height="2.6" fill="none" stroke="#111" stroke-width="0.8"/>
<rect x="103" y="339.0" width="4.5" height="1.6" fill="#111"/>
<rect x="111" y="339.0" width="3.5" height="1.6" fill="#111"/>
<rect x="114.5" y="339.0" width="3.5" height="1.6" fill="#111"/>
<rect x="111" y="342.0" width="3.5" height="1.6" fill="#111"/>
<rect x="96.5" y="345.0" width="2.5" height="2.6" fill="none" stroke="#111" stroke-width="0.8"/>
<rect x="103" y="345.0" width="4.5" height="1.6" fill="#111"/>
<rect x="114.5" y="345.0" width="3.5" height="1.6" fill="#111"/>
<rect x="96.5" y="348.0" width="2.5" height="2.6" fill="none" stroke="#111" stroke-width="0.8"/>
<rect x="103" y="351.0" width="4.5" height="1.6" fill="#111"/>
<rect x="99.5" y="354.0" width="3.5" height="1.6" fill="#111"/>
<rect x="115.0" y="354.0" width="2.5" height="2.6" fill="none" stroke="#111" stroke-width="0.8"/>
<rect x="99.5" y="357.0" width="3.5" height="1.6" fill="#111"/>
<rect x="103.5" y="357.0" width="3.5" height="2.6" fill="none" stroke="#111" stroke-width="0.8"/>
<rect x="114.5" y="357.0" width="3.5" height="1.6" fill="#111"/>
<rect x="114.5" y="360.0" width="3.5" height="1.6" fill="#111"/>
<rect x="100.0" y="363.0" width="2.5" height="2.6" fill="none" stroke="#111" stroke-width="0.8"/>
<rect x="103" y="363.0" width="4.5" height="1.6" fill="#111"/>
<rect x="114.5" y="363.0" width="3.5" height="1.6" fill="#111"/>
<rect x="99.5" y="366.0" width="3.5" height="1.6" fill="#111"/>
<rect x="111.5" y="366.0" width="2.5" height="2.6" fill="none" stroke="#111" stroke-width="0.8"/>
<rect x="114.5" y="366.0" width="3.5" height="1.6" fill="#111"/>
<rect x="100.0" y="369.0" width="2.5" height="2.6" fill="none" stroke="#111" stroke-width="0.8"/>
<rect x="114.5" y="369.0" width="3.5" height="1.6" fill="#111"/>
<rect x="96" y="372.0" width="3.5" height="1.6" fill="#111"/>
<rect x="99.5" y="372.0" width="3.5" height="1.6" fill="#111"/>
<rect x="111" y="372.0" width="3.5" height="1.6" fill="#111"/>
<rect x="114.5" y="372.0" width="3.5" height="1.6" fill="#111"/>
<path d="M118,255 L124,250 L124,265 L118,270" stroke="#111" stroke-width="1.2" fill="none" />
<path d="M118,370 L124,375 L124,360 L118,355" stroke="#111" stroke-width="1.2" fill="none" />
<circle cx="124.0" cy="294.0" r="1.6" stroke="#111" stroke-width="0.0" fill="#111" />
<line x1="88.0" y1="252.0" x2="120.0" y2="252.0" stroke="#111" stroke-width="1.3" />
<line x1="88.0" y1="372.0" x2="120.0" y2="372.0" stroke="#111" stroke-width="1.3" />
<path d="M120,193.3 Q115,205 116.7,220 L117.5,251 Q118,262 122,270 L120,298.3" stroke="#111" stroke-width="1.82" fill="none" />
<path d="M120,193.3 Q132,196 143.3,200 Q152,204 156.7,208.3 Q162,206 168,203" stroke="#111" stroke-width="1.69" fill="none" />
<path d="M117.5,226 Q121,224 122.5,229 L123,246 Q121,249 118.5,246 Z" stroke="#111" stroke-width="1.56" fill="none" />
<path d="M116,283 Q120,281 124,285 L125.5,294 Q121,297 117,292 Z" stroke="#111" stroke-width="1.69" fill="none" />
<path d="M131.7,201 Q146,206 156,214 L154,218.5 Q145,211 130.8,207 Z" stroke="#111" stroke-width="1.69" fill="white" />
<path d="M130.8,209.5 Q144,214 152.5,221 L150.5,225 Q142,218 130,215 Z" stroke="#111" stroke-width="1.69" fill="white" />
<path d="M127.5,246 L128.3,228 Q130,219 137,219 L146.7,221" stroke="#111" stroke-width="1.69" fill="none" />
<path d="M130,247.5 L165.8,212.5 L165.8,219.2 L131.7,253.3 Z" stroke="#111" stroke-width="1.69" fill="white" />
<path d="M130.8,256.7 L165.8,223.3 L165.8,228.3 L131.7,260.8 Z" stroke="#111" stroke-width="1.69" fill="white" />
<path d="M128.3,270 Q126,286 131.7,295 L160,275 L165,266.7" stroke="#111" stroke-width="1.69" fill="none" />
<path d="M137,264 L160,243 L163,245 L163,262 L145,274 Z" stroke="#111" stroke-width="1.56" fill="none" />
<ellipse cx="148" cy="266" rx="3" ry="2.5" fill="#111"/>
<ellipse cx="141" cy="271" rx="1.8" ry="1.5" fill="#111"/>
<path d="M149,246 L142,270 M155,243 L148,268 M161,240 L154,265" stroke="#111" stroke-width="1.69" fill="none" />
<ellipse cx="150" cy="268" rx="6" ry="4" fill="#222"/>
<line x1="130.0" y1="298.0" x2="130.0" y2="345.0" stroke="#111" stroke-width="1.3" />
<line x1="159.0" y1="275.0" x2="159.0" y2="345.0" stroke="#111" stroke-width="1.3" />
<line x1="120.0" y1="298.3" x2="131.7" y2="295.0" stroke="#111" stroke-width="1.56" />
<circle cx="136.0" cy="232.0" r="0.9" stroke="#111" stroke-width="0.0" fill="#111" />
<circle cx="135.0" cy="276.0" r="0.9" stroke="#111" stroke-width="0.0" fill="#111" />
<rect x="166" y="236" width="3.8" height="54" fill="#333"/>
<path d="M115.8,346.7 Q114,376 116.7,406.7 Q120,422 130,426.7 L168.3,430.8" stroke="#111" stroke-width="1.82" fill="none" />
<path d="M116,386 Q138,362 170.5,318 L171,323 Q141,366 119,390 Z" stroke="#111" stroke-width="1.69" fill="#444" />
<path d="M126.7,342 L126.7,396.7 Q128,403 135,403.3 L163.3,408.3" stroke="#111" stroke-width="1.69" fill="none" />
<path d="M130,408.3 L163.3,416.7 L163,421 L130,413 Z" stroke="#111" stroke-width="1.56" fill="white" />
<path d="M130,415 Q140,418 163,423.5 L163,427 Q140,423 131,420 Z" stroke="#111" stroke-width="1.56" fill="white" />
<line x1="134.0" y1="366.0" x2="138.0" y2="403.0" stroke="#111" stroke-width="1.56" />
<line x1="138.0" y1="366.0" x2="142.0" y2="403.0" stroke="#111" stroke-width="1.56" />
<line x1="142.0" y1="366.0" x2="146.0" y2="403.0" stroke="#111" stroke-width="1.56" />
<line x1="146.0" y1="366.0" x2="150.0" y2="403.0" stroke="#111" stroke-width="1.56" />
<line x1="150.0" y1="366.0" x2="154.0" y2="403.0" stroke="#111" stroke-width="1.56" />
<line x1="154.0" y1="366.0" x2="158.0" y2="403.0" stroke="#111" stroke-width="1.56" />
<line x1="158.0" y1="366.0" x2="162.0" y2="403.0" stroke="#111" stroke-width="1.56" />
<path d="M128,352 L150,346 L162,344 L164,356 L150,372 Z" stroke="#111" stroke-width="1.3" fill="none" />
<ellipse cx="143.3" cy="332" rx="3" ry="3.5" fill="white" stroke="#111" stroke-width="1.5"/>
<rect x="140.5" y="334" width="6" height="2.5" fill="#111"/>
<path d="M151.7,308 Q155,310 156.7,326.7 L154,328 Q151,318 151.7,308 Z" stroke="#111" stroke-width="1.56" fill="none" />
<path d="M128,342 Q145,336 168,312" stroke="#111" stroke-width="1.43" fill="none" />
<path d="M135,350 Q150,345 166,330" stroke="#111" stroke-width="1.3" fill="none" />
<rect x="166" y="338" width="3.8" height="70" fill="#333"/>
<path d="M120,356 L124,361 L124,372" stroke="#111" stroke-width="1.43" fill="none" />
<path d="M126.7,342 L122,336 L116,346" stroke="#111" stroke-width="1.56" fill="none" />
<circle cx="136.0" cy="376.0" r="0.9" stroke="#111" stroke-width="0.0" fill="#111" />
<circle cx="136.0" cy="396.0" r="0.9" stroke="#111" stroke-width="0.0" fill="#111" />
<path d="M150,372 L158,378 L162,392 L156,398" stroke="#111" stroke-width="1.3" fill="none" />
</svg></body></html>
